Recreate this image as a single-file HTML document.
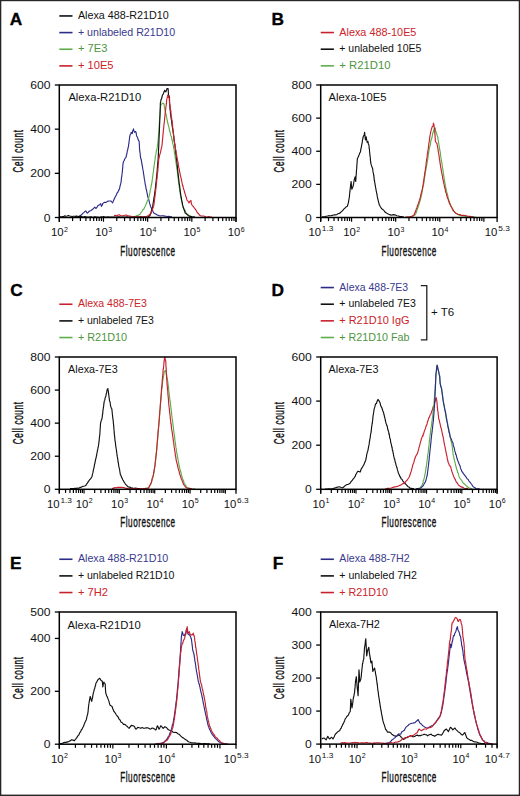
<!DOCTYPE html>
<html><head><meta charset="utf-8"><style>
html,body{margin:0;padding:0;background:#fff;}
body{width:520px;height:796px;overflow:hidden;}
svg{display:block;}
text{font-family:"Liberation Sans", sans-serif;}
.n{font-size:10.8px;fill:#111;}
.s{font-size:7px;fill:#111;}
.t{font-size:11px;fill:#111;}
.g{font-size:10.8px;}
.L{font-size:17.3px;font-weight:bold;fill:#000;stroke:#000;stroke-width:0.35px;}
.ax{font-size:14px;fill:#111;stroke:#111;stroke-width:0.4px;}
</style></head><body>
<svg width="520" height="796" viewBox="0 0 520 796">
<rect x="0" y="0" width="520" height="796" fill="#fff"/>
<path d="M75 217 L76.4 216.79 L77.8 216.75 L79.2 216.5 L80.1 215.79 L81 215.1 L81.9 214.5 L82.8 213.4 L83.7 212.65 L84.6 211.8 L85.9 210.9 L86.6 212.31 L87.3 213.2 L88.3 212.25 L89.3 211.1 L90.65 210.71 L92 209.8 L92.9 208.97 L93.8 208.11 L94.7 207.1 L96 208.5 L96.9 207.42 L97.8 205.75 L98.7 205.1 L99.7 204.66 L100.7 203.7 L101.05 205.2 L101.4 206.4 L102.07 205.45 L102.73 203.69 L103.4 203.1 L104.75 202.21 L106.1 202.4 L107.45 201.42 L108.8 201 L110.8 201 L111.7 201.75 L112.6 202.8 L113.13 201.63 L113.67 200.25 L114.2 199 L114.74 198.1 L115.28 196.62 L115.82 195.87 L116.36 194.82 L116.9 193.6 L117.44 192.3 L117.98 192.12 L118.52 190.63 L119.06 189.82 L119.6 188.3 L119.86 186.97 L120.12 185.84 L120.38 184.92 L120.64 183.94 L120.9 182.9 L121.06 181.96 L121.21 180.61 L121.37 179.11 L121.52 177.68 L121.68 176.67 L121.83 176.24 L121.99 174.14 L122.14 173.41 L122.3 172.1 L122.4 171.17 L122.5 169.16 L122.6 168.75 L122.7 168.22 L122.8 165.51 L122.9 165.2 L123 164.17 L123.1 163.1 L123.6 161.4 L124.1 160.75 L124.6 159.2 L125.4 158.02 L126.2 156.9 L126.42 154.93 L126.64 154.89 L126.86 153.59 L127.08 152.52 L127.3 150.8 L127.6 150.42 L127.9 148.69 L128.2 147.41 L128.5 146.2 L128.68 144.14 L128.85 143.84 L129.02 141.81 L129.2 140.8 L129.4 139.2 L129.6 137.38 L129.8 136.2 L130 135.4 L130.4 134.06 L130.8 134.08 L131.2 132.3 L132.3 133.5 L132.6 131.14 L132.9 130.3 L133.2 130.12 L133.5 128.8 L133.87 130.82 L134.23 131.47 L134.6 132.3 L135.4 131.5 L135.77 131.7 L136.13 132.65 L136.5 135.4 L136.9 136.65 L137.3 137.08 L137.7 137.92 L138.1 139.6 L139.2 141.5 L139.26 143.14 L139.31 144.31 L139.37 144.89 L139.43 146.03 L139.49 147.23 L139.54 148.96 L139.6 149.2 L139.73 150.69 L139.87 151.81 L140 152.99 L140.13 153.05 L140.27 155.69 L140.4 156.2 L140.68 158.01 L140.95 159.12 L141.22 159.19 L141.5 161.5 L141.7 162.36 L141.9 164.26 L142.1 164.15 L142.3 166.2 L142.57 167.48 L142.83 169.41 L143.1 170.3 L143.27 170.83 L143.45 173.31 L143.62 173.96 L143.79 174.78 L143.96 176.13 L144.14 177.4 L144.31 178.31 L144.48 179.88 L144.65 180.25 L144.83 181.49 L145 182.8 L145.23 184.37 L145.45 185.1 L145.68 185.88 L145.91 187.76 L146.14 189.1 L146.36 189.5 L146.59 190.3 L146.82 191.91 L147.05 193.05 L147.27 194.15 L147.5 195.4 L147.82 197.02 L148.14 197.31 L148.46 199.21 L148.78 199.5 L149.1 200.8 L149.42 202.38 L149.74 203.66 L150.06 204.7 L150.38 205.67 L150.7 206.7 L151.22 207.79 L151.73 208.84 L152.25 210 L152.77 210.86 L153.28 212.02 L153.8 213 L154.8 213.63 L155.8 214 L156.8 214.66 L157.8 215.11 L158.8 215.5 L160.06 216 L161.32 215.8 L162.58 215.78 L163.84 215.91 L165.1 216.1 L166.25 216.2 L167.4 216.46 L168.55 216.34 L169.7 216.57 L170.85 216.91 L172 216.7" fill="none" stroke="#2c2c88" stroke-width="1.15" stroke-linejoin="round"/>
<path d="M135 217 L136 216 L137 215.67 L138 215.37 L139 214.84 L140 214.2 L140.62 213.32 L141.25 212.22 L141.88 211.55 L142.5 210.52 L143.12 209.38 L143.75 209.23 L144.38 207.74 L145 206.7 L145.47 205.44 L145.95 204.47 L146.43 203.33 L146.9 202.28 L147.38 200.32 L147.85 199.94 L148.33 199.34 L148.8 197.9 L149.02 196.42 L149.24 195.72 L149.46 195.01 L149.69 193.9 L149.91 193.06 L150.13 190.79 L150.35 190.22 L150.57 189.14 L150.79 188.44 L151.01 187.55 L151.24 184.96 L151.46 185.4 L151.68 183.29 L151.9 182.8 L152.05 181.92 L152.19 179.84 L152.34 179.39 L152.48 178.67 L152.63 176.93 L152.78 175.92 L152.92 175.03 L153.07 173.57 L153.22 172.31 L153.36 171.89 L153.51 170.51 L153.65 168.72 L153.8 167.7 L153.97 167.87 L154.15 164.88 L154.32 164.73 L154.49 163.02 L154.66 162.08 L154.84 161.23 L155.01 159.86 L155.18 158.93 L155.35 156.7 L155.53 155.56 L155.7 155.2 L155.91 154.4 L156.12 152.45 L156.33 151.29 L156.54 149.93 L156.76 150.26 L156.97 148.87 L157.18 148.14 L157.39 145.71 L157.6 145.1 L157.71 143.96 L157.82 142.2 L157.93 142.12 L158.04 141.44 L158.15 138.92 L158.25 139.16 L158.36 137.71 L158.47 135.91 L158.58 133.74 L158.69 134.55 L158.8 132.6 L158.86 131.4 L158.93 129.96 L158.99 129.4 L159.05 128.26 L159.12 127.77 L159.18 125.12 L159.25 125.27 L159.31 124.34 L159.37 123.17 L159.44 121.04 L159.5 120 L159.59 118.41 L159.69 118.37 L159.78 116.69 L159.87 115.56 L159.96 115.25 L160.06 113.06 L160.15 110.65 L160.24 110.73 L160.34 108.66 L160.43 109.24 L160.52 107.79 L160.61 106.06 L160.71 105.32 L160.8 104.2 L161.75 104.14 L162.7 103 L164 104 L164.2 105.25 L164.4 107.26 L164.6 107.56 L164.8 109.47 L165 110 L165.25 112.11 L165.5 113.35 L165.75 113.08 L166 115.22 L166.25 114.66 L166.5 117 L166.75 117.83 L167 120 L167.29 119.95 L167.58 122.94 L167.87 122.69 L168.16 124.57 L168.45 125.61 L168.75 126.86 L169.04 127.67 L169.33 129.3 L169.62 131.36 L169.91 131.48 L170.2 132.6 L170.48 134.04 L170.76 135.45 L171.05 135.9 L171.33 136.43 L171.61 137.97 L171.89 140.02 L172.17 139.63 L172.45 141.36 L172.74 143.38 L173.02 144.4 L173.3 145.1 L173.47 146.25 L173.65 147.82 L173.82 148.63 L173.99 149.05 L174.16 150 L174.34 151.64 L174.51 153.6 L174.68 153.97 L174.85 154.95 L175.03 156.16 L175.2 157.7 L175.37 158.08 L175.55 159.93 L175.72 160.55 L175.89 162.46 L176.06 162.28 L176.24 164.73 L176.41 165.41 L176.58 165.94 L176.75 168.35 L176.93 169.03 L177.1 170.3 L177.25 170.41 L177.39 172.16 L177.54 173.82 L177.68 174.62 L177.83 176.3 L177.98 177.41 L178.12 178.5 L178.27 179.49 L178.42 181.04 L178.56 181.88 L178.71 182.93 L178.85 183.01 L179 185 L179.16 186.45 L179.33 187.7 L179.49 188.16 L179.65 189.18 L179.82 191.19 L179.98 190.89 L180.15 192.81 L180.31 194.61 L180.47 194.49 L180.64 196.15 L180.8 197 L181.04 198.77 L181.28 199.21 L181.51 200.56 L181.75 201.79 L181.99 202.34 L182.22 203.72 L182.46 204.96 L182.7 206 L183.24 207.32 L183.79 208.16 L184.33 209.21 L184.87 210.09 L185.41 211.34 L185.96 212.72 L186.5 213.6 L187.75 214.57 L189 215.5 L190 215.85 L191 216.36 L192 217" fill="none" stroke="#5fae4a" stroke-width="1.15" stroke-linejoin="round"/>
<path d="M60 216.6 L61.2 216.97 L62.4 216.64 L63.6 216.47 L64.8 215.83 L66 216.2 L67.2 215.96 L68.4 215.5 L69.7 215.94 L71 216.2 L72.14 216.51 L73.29 216.3 L74.43 216.23 L75.57 216.35 L76.71 215.93 L77.86 216.47 L79 216.3 L80.12 216.44 L81.25 216.36 L82.38 216.79 L83.5 216.95 L84.62 216.51 L85.75 216.72 L86.88 216.96 L88 217 L89.11 217.03 L90.22 216.94 L91.33 216.85 L92.44 217.2 L93.56 217.16 L94.67 216.81 L95.78 216.79 L96.89 217.2 L98 217.15 L99.11 217.2 L100.22 217.13 L101.33 216.86 L102.44 217.04 L103.56 216.66 L104.67 216.88 L105.78 216.99 L106.89 217.08 L108 216.89 L109.11 216.98 L110.22 217.07 L111.33 217.06 L112.44 217.1 L113.56 217.03 L114.67 216.95 L115.78 217.12 L116.89 217.01 L118 216.87 L119.11 216.9 L120.22 217 L121.33 216.98 L122.44 217.02 L123.56 217 L124.67 217.03 L125.78 216.98 L126.89 216.8 L128 217.07 L129.11 217.16 L130.22 217.07 L131.33 216.97 L132.44 217.07 L133.56 216.85 L134.67 216.71 L135.78 217.01 L136.89 216.86 L138 217.11 L139.11 216.83 L140.22 216.59 L141.33 216.84 L142.44 217.2 L143.56 216.94 L144.67 216.79 L145.78 216.88 L146.89 217.08 L148 217 L149 216.34 L150 215.5 L150.32 214.44 L150.65 213.63 L150.97 212.37 L151.3 211.09 L151.62 210.15 L151.95 209.34 L152.28 208.07 L152.6 206.7 L152.78 205.84 L152.96 204.05 L153.14 203.16 L153.31 202.27 L153.49 200.78 L153.67 200.07 L153.85 198.75 L154.03 197.7 L154.21 196.15 L154.39 195.97 L154.56 194.34 L154.74 192.65 L154.92 191.6 L155.1 190.4 L155.22 190.3 L155.34 188.07 L155.46 187.45 L155.57 186.39 L155.69 184.9 L155.81 183.32 L155.93 182.78 L156.05 181.75 L156.17 180.98 L156.29 179.74 L156.41 178.31 L156.53 177.57 L156.64 176.34 L156.76 175.09 L156.88 173.92 L157 172.8 L157.09 171.53 L157.18 170.79 L157.28 168.82 L157.37 167.86 L157.46 166.99 L157.55 165.13 L157.65 164.46 L157.74 162.53 L157.83 162.01 L157.92 161.47 L158.02 160.31 L158.11 158.83 L158.2 157.7 L158.25 156.44 L158.31 154.68 L158.36 155.21 L158.42 153.39 L158.47 152.55 L158.53 150.36 L158.58 149.58 L158.64 147.56 L158.69 147.81 L158.75 146.75 L158.8 145.1 L158.84 142.96 L158.89 142.87 L158.93 142.15 L158.98 139.72 L159.02 138.58 L159.06 137.9 L159.11 137.04 L159.15 135.5 L159.19 135.22 L159.24 134.24 L159.28 133.37 L159.32 132.31 L159.37 131.68 L159.41 130.39 L159.46 127.82 L159.5 127.5 L159.55 126.06 L159.59 124.59 L159.64 123.44 L159.68 122.91 L159.73 121.82 L159.77 120.98 L159.82 118.57 L159.86 117.64 L159.91 117.26 L159.95 116.01 L160 115 L160.04 113.69 L160.07 112.72 L160.11 111.16 L160.15 110.97 L160.18 109.64 L160.22 108.23 L160.25 106.74 L160.29 105.94 L160.33 103.17 L160.36 103.18 L160.4 102.7 L160.72 101.58 L161.04 99.43 L161.36 99.41 L161.68 98.24 L162 97 L162.5 94.91 L163 94.5 L163.5 93.5 L164.05 91.74 L164.6 90.4 L165.8 91.9 L166.17 91.11 L166.53 90.12 L166.9 88.6 L168.1 88.6 L168.18 89.86 L168.26 90.58 L168.34 92.34 L168.42 93.68 L168.5 95 L169.5 96.5 L169.51 98.09 L169.53 98.9 L169.54 99.32 L169.56 100.01 L169.57 101.75 L169.59 102.62 L169.6 104.2 L169.71 104.58 L169.83 106.32 L169.94 107.18 L170.06 108.67 L170.17 110.03 L170.29 110.54 L170.4 111.9 L170.54 114.52 L170.69 114.01 L170.83 116.06 L170.97 116.6 L171.11 118.38 L171.26 117.38 L171.4 120 L171.57 120.69 L171.75 122.44 L171.92 123.8 L172.09 125.99 L172.26 125.92 L172.44 127.64 L172.61 128.47 L172.78 129.72 L172.95 130.61 L173.13 131.36 L173.3 132.6 L173.45 134.05 L173.59 134.29 L173.74 136.74 L173.88 136.64 L174.03 138.51 L174.18 140.71 L174.32 140.55 L174.47 141.84 L174.62 143.63 L174.76 144.15 L174.91 144.85 L175.05 146.59 L175.2 147.6 L175.33 149 L175.45 150.16 L175.58 150.47 L175.71 152.89 L175.83 153.94 L175.96 154.17 L176.09 155.39 L176.21 156.13 L176.34 158.16 L176.47 158.18 L176.59 159.96 L176.72 160.48 L176.85 161.47 L176.97 163.26 L177.1 164 L177.22 165.74 L177.34 166.2 L177.46 166.98 L177.57 168.78 L177.69 169.48 L177.81 170.74 L177.93 172.4 L178.05 173.31 L178.17 173.67 L178.29 176.02 L178.41 176.1 L178.53 177.54 L178.64 178.02 L178.76 179.38 L178.88 179.76 L179 181.6 L179.15 183.49 L179.3 184.46 L179.45 184.56 L179.6 185.6 L179.75 186.71 L179.9 188.96 L180.05 189.47 L180.2 190.78 L180.35 191.83 L180.5 193.06 L180.65 193.86 L180.8 195.4 L181.01 196.52 L181.22 197.13 L181.43 198.71 L181.64 199.95 L181.86 201.11 L182.07 201.99 L182.28 202.9 L182.49 204.34 L182.7 205.4 L183.06 206.35 L183.41 208.01 L183.77 208.86 L184.13 209.71 L184.49 210.71 L184.84 211.75 L185.2 213 L186.15 213.57 L187.1 214.48 L188.05 215.38 L189 216.1 L190.2 216.37 L191.4 216.56 L192.6 216.99 L193.8 216.71 L195 217" fill="none" stroke="#111" stroke-width="1.15" stroke-linejoin="round"/>
<path d="M114 215.5 L115.33 215.34 L116.67 215.72 L118 215 L119.33 214.9 L120.67 215.43 L122 215.8 L123.33 215.57 L124.67 215.3 L126 215 L127.5 215.58 L129 216 L130.2 216.16 L131.4 216.46 L132.6 216.61 L133.8 216.92 L135 217 L136.11 216.71 L137.22 216.86 L138.33 217 L139.44 216.84 L140.56 216.84 L141.67 217.1 L142.78 216.9 L143.89 217.1 L145 217 L146.25 216.68 L147.5 216.1 L148.45 215.38 L149.4 214.65 L150.35 213.75 L151.3 213 L151.66 211.58 L152.01 210.82 L152.37 209.86 L152.73 208.51 L153.09 207.54 L153.44 206.7 L153.8 205.4 L153.95 203.98 L154.09 203.29 L154.24 202.53 L154.38 200.6 L154.53 199.68 L154.68 198.43 L154.82 197.85 L154.97 196.28 L155.12 195.34 L155.26 193.61 L155.41 192.7 L155.55 191.55 L155.7 190.4 L155.82 188.62 L155.94 188.76 L156.06 187.46 L156.17 185.3 L156.29 185.2 L156.41 183.75 L156.53 182.89 L156.65 181.75 L156.77 179.86 L156.89 179.31 L157.01 178.95 L157.12 176.95 L157.24 175.65 L157.36 174.39 L157.48 173.35 L157.6 172.8 L157.7 171.8 L157.8 171.28 L157.9 169.55 L158 168.32 L158.1 168.11 L158.2 165.65 L158.3 164.42 L158.4 163.86 L158.5 162.72 L158.6 160.8 L158.7 159.57 L158.8 159 L159.07 158.06 L159.34 156.95 L159.61 155.07 L159.89 154.55 L160.16 153.29 L160.43 152.73 L160.7 151.4 L160.96 150.08 L161.22 148.83 L161.48 147.43 L161.74 146.93 L162 145.1 L162.11 144.73 L162.22 142.62 L162.33 142.16 L162.44 140.13 L162.55 139.46 L162.65 138.71 L162.76 138.01 L162.87 135.79 L162.98 134.83 L163.09 133.85 L163.2 132.6 L163.32 130.58 L163.44 130.32 L163.55 128.76 L163.67 128.24 L163.79 126.2 L163.91 124.54 L164.03 124.6 L164.15 123.59 L164.26 121.96 L164.38 121.69 L164.5 120 L164.63 118.63 L164.76 117.22 L164.89 116.7 L165.02 114.22 L165.15 113.57 L165.28 112.79 L165.41 112.14 L165.54 110.3 L165.67 109.4 L165.8 108 L165.93 106.43 L166.06 105.91 L166.19 105.65 L166.31 102.98 L166.44 103.84 L166.57 100.72 L166.7 100 L166.95 98.76 L167.2 97.62 L167.45 96.94 L167.7 95 L168 95.42 L168.3 97.5 L169 96.5 L169.12 96.29 L169.25 99.28 L169.38 100.59 L169.5 101.66 L169.62 104.16 L169.75 103.76 L169.88 104.98 L170 106 L170.14 107.74 L170.29 108.52 L170.43 110.49 L170.57 109.78 L170.71 111.48 L170.86 110.68 L171 114 L171.2 115.71 L171.4 116.17 L171.6 118.17 L171.8 120.13 L172 120 L172.11 121.1 L172.22 122.06 L172.34 123.02 L172.45 123.92 L172.56 125.15 L172.67 127.02 L172.78 127.76 L172.89 128.89 L173.01 129.85 L173.12 131.59 L173.23 132.45 L173.34 133.19 L173.45 134.76 L173.56 135.4 L173.68 135.93 L173.79 138.52 L173.9 138.8 L174.09 140.22 L174.28 140.59 L174.48 142.88 L174.67 143.64 L174.86 143.75 L175.05 146.64 L175.25 147.11 L175.44 148.57 L175.63 149.36 L175.82 150.34 L176.02 150.76 L176.21 153.25 L176.4 153.9 L176.61 155.07 L176.82 156.05 L177.03 157.53 L177.23 158.54 L177.44 159.99 L177.65 160.62 L177.86 161.93 L178.07 162.05 L178.28 164.04 L178.48 165.72 L178.69 167.19 L178.9 167.7 L179.14 168.67 L179.37 169.93 L179.61 171.87 L179.85 172.13 L180.08 173.76 L180.32 175.32 L180.55 175.74 L180.79 177.4 L181.03 177.7 L181.26 179.24 L181.5 180.3 L181.76 181.34 L182.01 182.49 L182.27 183.98 L182.53 185.56 L182.79 185.39 L183.04 186.5 L183.3 187.8 L183.68 189.25 L184.06 189.92 L184.44 191.77 L184.82 193.05 L185.2 194.1 L185.58 195.26 L185.96 196.81 L186.34 197.35 L186.72 199.39 L187.1 200.4 L188.05 201.16 L189 202.9 L189.95 201.43 L190.9 200.4 L191.1 201.49 L191.3 202.81 L191.5 204.2 L192.45 205.7 L193.4 206.7 L194.35 207.97 L195.3 209.2 L195.93 210.05 L196.55 211.23 L197.18 212.42 L197.8 213 L198.53 213.83 L199.27 214.74 L200 215.5 L201.25 215.98 L202.5 216.05 L203.75 216.02 L205 216.5 L206.17 217 L207.33 217.03 L208.5 216.43 L209.67 216.83 L210.83 216.98 L212 217" fill="none" stroke="#c8202e" stroke-width="1.15" stroke-linejoin="round"/>
<rect x="59.3" y="85" width="176.7" height="132.5" fill="none" stroke="#000" stroke-width="1.5"/>
<line x1="54.8" y1="217.5" x2="59.3" y2="217.5" stroke="#000" stroke-width="1.3"/>
<text x="50.4" y="221.5" text-anchor="end" class="n" textLength="6.75" lengthAdjust="spacingAndGlyphs">0</text>
<line x1="54.8" y1="173.33" x2="59.3" y2="173.33" stroke="#000" stroke-width="1.3"/>
<text x="50.4" y="177.33" text-anchor="end" class="n" textLength="20.25" lengthAdjust="spacingAndGlyphs">200</text>
<line x1="54.8" y1="129.17" x2="59.3" y2="129.17" stroke="#000" stroke-width="1.3"/>
<text x="50.4" y="133.17" text-anchor="end" class="n" textLength="20.25" lengthAdjust="spacingAndGlyphs">400</text>
<line x1="54.8" y1="85" x2="59.3" y2="85" stroke="#000" stroke-width="1.3"/>
<text x="50.4" y="89" text-anchor="end" class="n" textLength="20.25" lengthAdjust="spacingAndGlyphs">600</text>
<line x1="59.3" y1="217.5" x2="59.3" y2="221.7" stroke="#000" stroke-width="1.2"/>
<line x1="72.6" y1="217.5" x2="72.6" y2="221.1" stroke="#000" stroke-width="1.2"/>
<line x1="80.38" y1="217.5" x2="80.38" y2="221.1" stroke="#000" stroke-width="1.2"/>
<line x1="85.9" y1="217.5" x2="85.9" y2="221.1" stroke="#000" stroke-width="1.2"/>
<line x1="90.18" y1="217.5" x2="90.18" y2="221.1" stroke="#000" stroke-width="1.2"/>
<line x1="93.67" y1="217.5" x2="93.67" y2="221.1" stroke="#000" stroke-width="1.2"/>
<line x1="96.63" y1="217.5" x2="96.63" y2="221.1" stroke="#000" stroke-width="1.2"/>
<line x1="99.19" y1="217.5" x2="99.19" y2="221.1" stroke="#000" stroke-width="1.2"/>
<line x1="101.45" y1="217.5" x2="101.45" y2="221.1" stroke="#000" stroke-width="1.2"/>
<line x1="103.47" y1="217.5" x2="103.47" y2="221.7" stroke="#000" stroke-width="1.2"/>
<line x1="116.77" y1="217.5" x2="116.77" y2="221.1" stroke="#000" stroke-width="1.2"/>
<line x1="124.55" y1="217.5" x2="124.55" y2="221.1" stroke="#000" stroke-width="1.2"/>
<line x1="130.07" y1="217.5" x2="130.07" y2="221.1" stroke="#000" stroke-width="1.2"/>
<line x1="134.35" y1="217.5" x2="134.35" y2="221.1" stroke="#000" stroke-width="1.2"/>
<line x1="137.85" y1="217.5" x2="137.85" y2="221.1" stroke="#000" stroke-width="1.2"/>
<line x1="140.81" y1="217.5" x2="140.81" y2="221.1" stroke="#000" stroke-width="1.2"/>
<line x1="143.37" y1="217.5" x2="143.37" y2="221.1" stroke="#000" stroke-width="1.2"/>
<line x1="145.63" y1="217.5" x2="145.63" y2="221.1" stroke="#000" stroke-width="1.2"/>
<line x1="147.65" y1="217.5" x2="147.65" y2="221.7" stroke="#000" stroke-width="1.2"/>
<line x1="160.95" y1="217.5" x2="160.95" y2="221.1" stroke="#000" stroke-width="1.2"/>
<line x1="168.73" y1="217.5" x2="168.73" y2="221.1" stroke="#000" stroke-width="1.2"/>
<line x1="174.25" y1="217.5" x2="174.25" y2="221.1" stroke="#000" stroke-width="1.2"/>
<line x1="178.53" y1="217.5" x2="178.53" y2="221.1" stroke="#000" stroke-width="1.2"/>
<line x1="182.02" y1="217.5" x2="182.02" y2="221.1" stroke="#000" stroke-width="1.2"/>
<line x1="184.98" y1="217.5" x2="184.98" y2="221.1" stroke="#000" stroke-width="1.2"/>
<line x1="187.54" y1="217.5" x2="187.54" y2="221.1" stroke="#000" stroke-width="1.2"/>
<line x1="189.8" y1="217.5" x2="189.8" y2="221.1" stroke="#000" stroke-width="1.2"/>
<line x1="191.82" y1="217.5" x2="191.82" y2="221.7" stroke="#000" stroke-width="1.2"/>
<line x1="205.12" y1="217.5" x2="205.12" y2="221.1" stroke="#000" stroke-width="1.2"/>
<line x1="212.9" y1="217.5" x2="212.9" y2="221.1" stroke="#000" stroke-width="1.2"/>
<line x1="218.42" y1="217.5" x2="218.42" y2="221.1" stroke="#000" stroke-width="1.2"/>
<line x1="222.7" y1="217.5" x2="222.7" y2="221.1" stroke="#000" stroke-width="1.2"/>
<line x1="226.2" y1="217.5" x2="226.2" y2="221.1" stroke="#000" stroke-width="1.2"/>
<line x1="229.16" y1="217.5" x2="229.16" y2="221.1" stroke="#000" stroke-width="1.2"/>
<line x1="231.72" y1="217.5" x2="231.72" y2="221.1" stroke="#000" stroke-width="1.2"/>
<line x1="233.98" y1="217.5" x2="233.98" y2="221.1" stroke="#000" stroke-width="1.2"/>
<line x1="236" y1="217.5" x2="236" y2="221.7" stroke="#000" stroke-width="1.2"/>
<line x1="59.3" y1="217.5" x2="59.3" y2="222" stroke="#000" stroke-width="1.3"/>
<line x1="236" y1="217.5" x2="236" y2="222" stroke="#000" stroke-width="1.3"/>
<text x="51.05" y="236.4" class="n" textLength="12.6" lengthAdjust="spacingAndGlyphs">10</text><text x="64.05" y="231.5" class="s">2</text>
<text x="95.22" y="236.4" class="n" textLength="12.6" lengthAdjust="spacingAndGlyphs">10</text><text x="108.22" y="231.5" class="s">3</text>
<text x="139.4" y="236.4" class="n" textLength="12.6" lengthAdjust="spacingAndGlyphs">10</text><text x="152.4" y="231.5" class="s">4</text>
<text x="183.57" y="236.4" class="n" textLength="12.6" lengthAdjust="spacingAndGlyphs">10</text><text x="196.57" y="231.5" class="s">5</text>
<text x="227.75" y="236.4" class="n" textLength="12.6" lengthAdjust="spacingAndGlyphs">10</text><text x="240.75" y="231.5" class="s">6</text>
<text transform="translate(147.65 255.6) scale(0.58 1)" x="0" y="0" text-anchor="middle" class="ax" textLength="94.83" lengthAdjust="spacing">Fluorescence</text>
<text transform="translate(22.9 151.25) rotate(-90) scale(0.58 1)" x="0" y="0" text-anchor="middle" class="ax" textLength="73.1" lengthAdjust="spacing">Cell count</text>
<text x="68.4" y="101.4" class="t" textLength="72.8" lengthAdjust="spacingAndGlyphs">Alexa-R21D10</text>
<path d="M322 216.8 L323.4 216.76 L324.8 216.52 L326.2 216.2 L327.42 215.99 L328.64 215.69 L329.86 215.74 L331.08 215.76 L332.3 215.4 L333.45 214.99 L334.6 214.8 L335.75 214.8 L336.9 214.6 L337.93 213.69 L338.97 213.54 L340 213.1 L341.03 211.96 L342.07 211.14 L343.1 210 L344.25 208.66 L345.4 207.7 L346.4 206.7 L347.4 206.2 L347.77 204.78 L348.13 203.58 L348.5 202.3 L348.67 200.94 L348.83 200 L349 199.1 L349.17 198.11 L349.33 197.14 L349.5 195.4 L349.62 193.97 L349.75 192.95 L349.88 191.02 L350 191.52 L350.12 189.37 L350.25 188.49 L350.38 187.56 L350.5 186.2 L350.65 184.47 L350.8 184.04 L350.95 182.66 L351.1 181.5 L351.2 181.84 L351.3 183.82 L351.4 185.28 L351.5 185.15 L351.6 187.32 L351.7 188.18 L351.8 189.2 L352.45 187.89 L353.1 186.2 L353.32 185.14 L353.54 184.26 L353.76 182.39 L353.98 181.61 L354.2 180 L354.65 178.27 L355.1 176.9 L355.25 178.37 L355.4 178.85 L355.55 180.3 L355.7 181.5 L355.78 181.12 L355.86 179.45 L355.95 178.08 L356.03 176.53 L356.11 175.56 L356.19 174.88 L356.27 174.1 L356.35 172.75 L356.44 171.68 L356.52 170.3 L356.6 169.2 L356.69 168.65 L356.78 166.64 L356.87 165.37 L356.96 164.87 L357.04 163.29 L357.13 161.93 L357.22 160.59 L357.31 159.56 L357.4 158.5 L358 157.52 L358.6 156.08 L359.2 154.6 L359.75 152.82 L360.3 152.3 L360.54 151.3 L360.78 149.96 L361.02 148.1 L361.26 147.84 L361.5 146.2 L361.69 144.95 L361.87 143.82 L362.06 143.34 L362.24 142.53 L362.43 140.32 L362.61 139.85 L362.8 138.5 L363.3 136.45 L363.8 135.4 L364.2 135.19 L364.6 132.3 L364.73 133.11 L364.86 135.19 L364.99 135.23 L365.11 137.16 L365.24 139.06 L365.37 137.47 L365.5 140 L365.85 138.2 L366.2 136.9 L366.43 138.53 L366.65 139.55 L366.88 140.58 L367.1 142.3 L368 141.5 L368.3 143.99 L368.6 144.14 L368.9 145.4 L369.05 145.86 L369.2 148.56 L369.35 148.53 L369.5 150.8 L369.62 152.52 L369.74 152.74 L369.85 154.23 L369.97 155.92 L370.09 156.45 L370.21 156.8 L370.33 157.77 L370.45 160.34 L370.56 161.23 L370.68 161.58 L370.8 163.1 L371.18 164.67 L371.55 165.64 L371.93 166.86 L372.3 167.7 L372.54 167.86 L372.78 170 L373.02 171.77 L373.26 172.91 L373.5 173.8 L373.66 175.29 L373.81 174.91 L373.97 177.17 L374.13 178.41 L374.29 180.39 L374.44 180 L374.6 181.5 L374.8 182.53 L375 183.84 L375.2 185.35 L375.4 185.97 L375.6 187.77 L375.8 188.17 L376 189.74 L376.2 190.8 L376.41 191.7 L376.63 193.06 L376.84 193.85 L377.06 194.63 L377.27 196.68 L377.49 197.5 L377.7 198.5 L378 199.54 L378.3 201 L378.6 202.47 L378.9 203.08 L379.2 204.6 L379.77 205.54 L380.35 206.7 L380.93 207.67 L381.5 208.5 L382.53 209.41 L383.57 209.97 L384.6 211.5 L385.63 212.56 L386.67 213.11 L387.7 213.8 L388.73 214.24 L389.77 214.61 L390.8 215.1 L392.3 214.9 L393.8 214.6 L395.35 215.07 L396.9 215.7 L398.45 215.97 L400 216.6 L401.33 216.61 L402.67 216.77 L404 217" fill="none" stroke="#111" stroke-width="1.15" stroke-linejoin="round"/>
<path d="M406 217.3 L407.2 217.19 L408.4 217.08 L409.6 217.2 L410.8 217.2 L411.95 216.33 L413.1 216.02 L414.25 215.05 L415.4 214.6 L415.79 213.63 L416.17 212.82 L416.56 211.5 L416.95 210.21 L417.34 209.36 L417.73 208.34 L418.11 206.76 L418.5 206.2 L418.8 204.94 L419.1 204.09 L419.4 202.81 L419.7 201.91 L420 201.04 L420.3 199.97 L420.6 198.95 L420.9 197.76 L421.2 196.38 L421.5 195.4 L421.71 194.28 L421.92 193.06 L422.13 191.93 L422.34 190.86 L422.55 189.15 L422.75 188.56 L422.96 187.56 L423.17 186.07 L423.38 185.33 L423.59 184.43 L423.8 183.1 L423.98 181.83 L424.16 181.58 L424.33 178.38 L424.51 178.21 L424.69 176.3 L424.87 176.33 L425.04 175.89 L425.22 172.37 L425.4 172.3 L425.62 171.16 L425.84 170.14 L426.07 168.56 L426.29 167.76 L426.51 165.23 L426.73 165.51 L426.96 164.08 L427.18 162.71 L427.4 161.5 L427.56 160.09 L427.73 159.58 L427.89 157.9 L428.05 157.14 L428.22 155.65 L428.38 153.63 L428.55 153.66 L428.71 152.66 L428.87 151.83 L429.04 149.85 L429.2 149.2 L429.46 147.99 L429.71 147.16 L429.97 145.71 L430.22 145.12 L430.48 144.35 L430.73 141.56 L430.99 139.81 L431.24 140.17 L431.5 138.5 L431.79 138.27 L432.07 136.83 L432.36 135.67 L432.64 133.74 L432.93 132.59 L433.21 132.42 L433.5 130.8 L434.03 129.23 L434.57 127.66 L435.1 127.7 L435.32 128.19 L435.54 131.33 L435.76 132.07 L435.98 131.62 L436.2 133.1 L436.7 133.95 L437.2 135.77 L437.7 136.9 L437.89 137.64 L438.07 139.96 L438.26 140.34 L438.45 140.95 L438.64 143.44 L438.82 143.55 L439.01 145.16 L439.2 146.2 L439.38 147.38 L439.56 148.41 L439.73 149.94 L439.91 150.59 L440.09 151.18 L440.27 152.18 L440.44 153.87 L440.62 155.32 L440.8 156.9 L440.98 158.01 L441.16 159.16 L441.35 160.53 L441.53 161.43 L441.71 162.1 L441.89 163.26 L442.07 163.7 L442.25 165.76 L442.44 167.19 L442.62 168.33 L442.8 169.2 L442.98 170.3 L443.15 171.44 L443.32 173.1 L443.5 173.84 L443.68 175.32 L443.85 176.41 L444.02 177.4 L444.2 179.03 L444.38 179.38 L444.55 180.63 L444.72 181.6 L444.9 183.1 L445.15 183.92 L445.4 186.03 L445.65 187.25 L445.9 187.71 L446.15 189.07 L446.4 190.45 L446.65 191.45 L446.9 192.3 L447.19 193.89 L447.47 194.15 L447.76 195.52 L448.05 197.06 L448.34 198.54 L448.62 199.23 L448.91 200.07 L449.2 201.5 L449.64 202.49 L450.09 203.5 L450.53 204.54 L450.97 206.34 L451.41 206.82 L451.86 208.11 L452.3 209.2 L453.07 210.73 L453.85 211.44 L454.62 212.2 L455.4 213.1 L456.55 213.54 L457.7 214.34 L458.85 215.15 L460 215.4 L461.15 215.72 L462.3 216.03 L463.45 216.02 L464.6 216.2 L465.84 216.43 L467.08 216.45 L468.32 216.69 L469.56 216.97 L470.8 216.9 L472.1 216.75 L473.4 217.04 L474.7 217.16 L476 217.2" fill="none" stroke="#5fae4a" stroke-width="1.15" stroke-linejoin="round"/>
<path d="M405 217.2 L406.4 217.01 L407.8 216.95 L409.2 216.9 L410.35 216.66 L411.5 216.51 L412.65 215.89 L413.8 215.4 L414.24 214.37 L414.69 212.85 L415.13 212.56 L415.57 211.02 L416.01 209.89 L416.46 208.5 L416.9 207.7 L417.29 206.53 L417.67 205.08 L418.06 204.27 L418.45 203.24 L418.84 201.96 L419.23 200.89 L419.61 199.37 L420 198.5 L420.29 197.83 L420.57 195.95 L420.86 194.36 L421.15 193.78 L421.44 192.41 L421.73 191.15 L422.01 190.23 L422.3 189.2 L422.49 188.16 L422.68 186.43 L422.86 185.69 L423.05 185.18 L423.24 183.73 L423.43 182.24 L423.61 181.2 L423.8 180 L423.98 178.75 L424.16 177.58 L424.33 176.72 L424.51 175.16 L424.69 172.92 L424.87 172.79 L425.04 171.19 L425.22 170.7 L425.4 169.2 L425.57 167.72 L425.73 166.89 L425.9 166.68 L426.07 163.94 L426.23 162.71 L426.4 161.37 L426.57 159.69 L426.73 158.75 L426.9 158.5 L427.05 157.57 L427.19 155.94 L427.34 154.18 L427.48 153.26 L427.63 153.23 L427.77 151.38 L427.92 150.48 L428.06 149.73 L428.21 149.16 L428.35 148.36 L428.5 146.2 L428.67 145.56 L428.83 143.88 L429 142.7 L429.17 142.4 L429.33 141 L429.5 138.83 L429.67 138.06 L429.83 136.76 L430 135.4 L430.3 134.19 L430.6 132.63 L430.9 130.91 L431.2 130.13 L431.5 129.2 L432.15 126.78 L432.8 126.2 L433.15 125.39 L433.5 123.1 L433.72 124.5 L433.94 124.54 L434.16 127.17 L434.38 127.95 L434.6 128.5 L434.67 128.56 L434.75 131.94 L434.82 132.52 L434.89 134.42 L434.96 133.7 L435.04 135.89 L435.11 137.01 L435.18 138.07 L435.25 139.23 L435.33 140.91 L435.4 141.5 L436.6 143.1 L436.88 143.43 L437.15 144.72 L437.43 145.8 L437.7 147.7 L437.89 148.55 L438.07 149.68 L438.26 151.34 L438.45 152.44 L438.64 153.47 L438.82 154.25 L439.01 155.52 L439.2 156.9 L439.38 158.58 L439.56 159.68 L439.73 160.55 L439.91 161.54 L440.09 163.66 L440.27 163.81 L440.44 165.61 L440.62 167.05 L440.8 167.7 L441.01 168.69 L441.22 170.32 L441.43 170.54 L441.64 172.64 L441.85 173.38 L442.05 173.7 L442.26 175.82 L442.47 176.25 L442.68 178.32 L442.89 178.59 L443.1 180 L443.33 181.01 L443.56 182.28 L443.79 183.1 L444.02 184.43 L444.25 185.18 L444.48 186.75 L444.71 187.56 L444.94 188.72 L445.17 188.66 L445.4 190.8 L445.73 192.33 L446.06 193.01 L446.39 193.45 L446.71 195.23 L447.04 196.46 L447.37 197.77 L447.7 198.5 L448.14 199.24 L448.59 201.2 L449.03 201.75 L449.47 203.64 L449.91 203.96 L450.36 205.3 L450.8 206.2 L451.55 207.25 L452.3 208.2 L453.05 209.94 L453.8 210.8 L454.83 212.02 L455.87 213.15 L456.9 213.8 L458.05 214.38 L459.2 214.48 L460.35 214.67 L461.5 215.4 L462.68 215.35 L463.85 215.42 L465.02 215.47 L466.2 215.7 L467.35 216.03 L468.5 216.21 L469.65 216.33 L470.8 216.6 L472.3 216.83 L473.8 217" fill="none" stroke="#c8202e" stroke-width="1.15" stroke-linejoin="round"/>
<rect x="320.7" y="85" width="176.4" height="132.5" fill="none" stroke="#000" stroke-width="1.5"/>
<line x1="316.2" y1="217.5" x2="320.7" y2="217.5" stroke="#000" stroke-width="1.3"/>
<text x="311.8" y="221.5" text-anchor="end" class="n" textLength="6.75" lengthAdjust="spacingAndGlyphs">0</text>
<line x1="316.2" y1="184.38" x2="320.7" y2="184.38" stroke="#000" stroke-width="1.3"/>
<text x="311.8" y="188.38" text-anchor="end" class="n" textLength="20.25" lengthAdjust="spacingAndGlyphs">200</text>
<line x1="316.2" y1="151.25" x2="320.7" y2="151.25" stroke="#000" stroke-width="1.3"/>
<text x="311.8" y="155.25" text-anchor="end" class="n" textLength="20.25" lengthAdjust="spacingAndGlyphs">400</text>
<line x1="316.2" y1="118.12" x2="320.7" y2="118.12" stroke="#000" stroke-width="1.3"/>
<text x="311.8" y="122.12" text-anchor="end" class="n" textLength="20.25" lengthAdjust="spacingAndGlyphs">600</text>
<line x1="316.2" y1="85" x2="320.7" y2="85" stroke="#000" stroke-width="1.3"/>
<text x="311.8" y="89" text-anchor="end" class="n" textLength="20.25" lengthAdjust="spacingAndGlyphs">800</text>
<line x1="320.75" y1="217.5" x2="320.75" y2="221.1" stroke="#000" stroke-width="1.2"/>
<line x1="328.51" y1="217.5" x2="328.51" y2="221.1" stroke="#000" stroke-width="1.2"/>
<line x1="334.02" y1="217.5" x2="334.02" y2="221.1" stroke="#000" stroke-width="1.2"/>
<line x1="338.29" y1="217.5" x2="338.29" y2="221.1" stroke="#000" stroke-width="1.2"/>
<line x1="341.79" y1="217.5" x2="341.79" y2="221.1" stroke="#000" stroke-width="1.2"/>
<line x1="344.74" y1="217.5" x2="344.74" y2="221.1" stroke="#000" stroke-width="1.2"/>
<line x1="347.3" y1="217.5" x2="347.3" y2="221.1" stroke="#000" stroke-width="1.2"/>
<line x1="349.55" y1="217.5" x2="349.55" y2="221.1" stroke="#000" stroke-width="1.2"/>
<line x1="351.57" y1="217.5" x2="351.57" y2="221.7" stroke="#000" stroke-width="1.2"/>
<line x1="364.85" y1="217.5" x2="364.85" y2="221.1" stroke="#000" stroke-width="1.2"/>
<line x1="372.61" y1="217.5" x2="372.61" y2="221.1" stroke="#000" stroke-width="1.2"/>
<line x1="378.12" y1="217.5" x2="378.12" y2="221.1" stroke="#000" stroke-width="1.2"/>
<line x1="382.39" y1="217.5" x2="382.39" y2="221.1" stroke="#000" stroke-width="1.2"/>
<line x1="385.89" y1="217.5" x2="385.89" y2="221.1" stroke="#000" stroke-width="1.2"/>
<line x1="388.84" y1="217.5" x2="388.84" y2="221.1" stroke="#000" stroke-width="1.2"/>
<line x1="391.4" y1="217.5" x2="391.4" y2="221.1" stroke="#000" stroke-width="1.2"/>
<line x1="393.65" y1="217.5" x2="393.65" y2="221.1" stroke="#000" stroke-width="1.2"/>
<line x1="395.67" y1="217.5" x2="395.67" y2="221.7" stroke="#000" stroke-width="1.2"/>
<line x1="408.95" y1="217.5" x2="408.95" y2="221.1" stroke="#000" stroke-width="1.2"/>
<line x1="416.71" y1="217.5" x2="416.71" y2="221.1" stroke="#000" stroke-width="1.2"/>
<line x1="422.22" y1="217.5" x2="422.22" y2="221.1" stroke="#000" stroke-width="1.2"/>
<line x1="426.49" y1="217.5" x2="426.49" y2="221.1" stroke="#000" stroke-width="1.2"/>
<line x1="429.99" y1="217.5" x2="429.99" y2="221.1" stroke="#000" stroke-width="1.2"/>
<line x1="432.94" y1="217.5" x2="432.94" y2="221.1" stroke="#000" stroke-width="1.2"/>
<line x1="435.5" y1="217.5" x2="435.5" y2="221.1" stroke="#000" stroke-width="1.2"/>
<line x1="437.75" y1="217.5" x2="437.75" y2="221.1" stroke="#000" stroke-width="1.2"/>
<line x1="439.77" y1="217.5" x2="439.77" y2="221.7" stroke="#000" stroke-width="1.2"/>
<line x1="453.05" y1="217.5" x2="453.05" y2="221.1" stroke="#000" stroke-width="1.2"/>
<line x1="460.81" y1="217.5" x2="460.81" y2="221.1" stroke="#000" stroke-width="1.2"/>
<line x1="466.32" y1="217.5" x2="466.32" y2="221.1" stroke="#000" stroke-width="1.2"/>
<line x1="470.59" y1="217.5" x2="470.59" y2="221.1" stroke="#000" stroke-width="1.2"/>
<line x1="474.09" y1="217.5" x2="474.09" y2="221.1" stroke="#000" stroke-width="1.2"/>
<line x1="477.04" y1="217.5" x2="477.04" y2="221.1" stroke="#000" stroke-width="1.2"/>
<line x1="479.6" y1="217.5" x2="479.6" y2="221.1" stroke="#000" stroke-width="1.2"/>
<line x1="481.85" y1="217.5" x2="481.85" y2="221.1" stroke="#000" stroke-width="1.2"/>
<line x1="483.87" y1="217.5" x2="483.87" y2="221.7" stroke="#000" stroke-width="1.2"/>
<line x1="320.7" y1="217.5" x2="320.7" y2="222" stroke="#000" stroke-width="1.3"/>
<line x1="497.1" y1="217.5" x2="497.1" y2="222" stroke="#000" stroke-width="1.3"/>
<text x="308.4" y="236.4" class="n" textLength="12.6" lengthAdjust="spacingAndGlyphs">10</text><text x="321.8" y="231.2" class="s" textLength="11.6" lengthAdjust="spacingAndGlyphs">1.3</text>
<text x="343.32" y="236.4" class="n" textLength="12.6" lengthAdjust="spacingAndGlyphs">10</text><text x="356.32" y="231.5" class="s">2</text>
<text x="387.42" y="236.4" class="n" textLength="12.6" lengthAdjust="spacingAndGlyphs">10</text><text x="400.42" y="231.5" class="s">3</text>
<text x="431.52" y="236.4" class="n" textLength="12.6" lengthAdjust="spacingAndGlyphs">10</text><text x="444.52" y="231.5" class="s">4</text>
<text x="484.8" y="236.4" class="n" textLength="12.6" lengthAdjust="spacingAndGlyphs">10</text><text x="498.2" y="231.2" class="s" textLength="11.6" lengthAdjust="spacingAndGlyphs">5.3</text>
<text transform="translate(408.9 255.6) scale(0.58 1)" x="0" y="0" text-anchor="middle" class="ax" textLength="94.83" lengthAdjust="spacing">Fluorescence</text>
<text transform="translate(284.3 151.25) rotate(-90) scale(0.58 1)" x="0" y="0" text-anchor="middle" class="ax" textLength="73.1" lengthAdjust="spacing">Cell count</text>
<text x="328.6" y="100.7" class="t" textLength="57.9" lengthAdjust="spacingAndGlyphs">Alexa-10E5</text>
<path d="M70 488.6 L71.25 488.5 L72.5 488.49 L73.75 488.5 L75 488.3 L76.33 488.43 L77.67 488.12 L79 488.2 L80.03 487.39 L81.07 487.41 L82.1 486.6 L83.37 486.22 L84.63 486.04 L85.9 485.4 L86.52 484.1 L87.14 483.48 L87.76 482.65 L88.38 481.35 L89 480.8 L89.62 479.74 L90.24 479.16 L90.86 478.35 L91.48 477.59 L92.1 476.2 L92.33 474.85 L92.56 473.6 L92.79 473.13 L93.02 472.19 L93.25 470.86 L93.48 469.28 L93.71 468.91 L93.94 467.84 L94.17 466.68 L94.4 465.4 L94.63 464.14 L94.86 463.35 L95.09 462.46 L95.32 460.86 L95.55 459.28 L95.78 459.05 L96.01 458.03 L96.24 456.77 L96.47 456.04 L96.7 454.6 L96.92 453.15 L97.14 452.17 L97.37 450.87 L97.59 450.05 L97.81 449.3 L98.03 447.29 L98.26 447.12 L98.48 445.69 L98.7 443.8 L98.84 443.01 L98.97 441.77 L99.11 441.18 L99.25 439.11 L99.39 438 L99.53 436.39 L99.66 435.98 L99.8 434.6 L99.88 434.06 L99.96 432.47 L100.03 431.21 L100.11 429.7 L100.19 428.69 L100.27 426.67 L100.34 426.74 L100.42 424.79 L100.5 423.8 L100.82 422 L101.14 420.96 L101.46 419.7 L101.78 419.38 L102.1 417.7 L102.25 417.13 L102.4 414.65 L102.55 414.76 L102.7 413.59 L102.85 411.63 L103 409.96 L103.15 409.23 L103.3 408.5 L103.46 407.04 L103.61 406.5 L103.77 404.99 L103.93 402.92 L104.09 403.14 L104.24 401 L104.4 400.8 L104.78 400.19 L105.15 397.78 L105.53 396.93 L105.9 396.2 L106.12 394.44 L106.34 393.39 L106.56 393.27 L106.78 391.76 L107 390 L107.9 388.5 L108.05 390.02 L108.2 391 L108.35 391 L108.5 393.1 L108.64 393.88 L108.79 394.97 L108.93 395.81 L109.07 397.8 L109.21 398.16 L109.36 399.28 L109.5 400.8 L109.8 401.41 L110.1 402.04 L110.4 404.81 L110.7 406.45 L111 406.9 L111.28 408.15 L111.55 408.65 L111.82 408.82 L112.1 411.5 L112.24 412.76 L112.38 414.5 L112.51 415.15 L112.65 416.66 L112.79 418.12 L112.92 419.08 L113.06 419.4 L113.2 420.8 L113.3 422.51 L113.4 423.51 L113.5 423.45 L113.6 425.19 L113.7 425.82 L113.8 427.64 L113.9 429.14 L114 429.46 L114.1 430.12 L114.2 432.95 L114.3 433.64 L114.4 434.6 L114.54 436.43 L114.67 436.2 L114.81 438.46 L114.95 440.06 L115.08 441.14 L115.22 441.21 L115.35 442.55 L115.49 443.47 L115.63 445.12 L115.76 446.25 L115.9 446.9 L116.08 448.14 L116.26 448.71 L116.43 450.82 L116.61 451.5 L116.79 453.17 L116.97 454.21 L117.14 455.97 L117.32 456.96 L117.5 457.7 L117.69 458.67 L117.88 460.14 L118.06 461.83 L118.25 462.1 L118.44 463.61 L118.62 465.04 L118.81 466.21 L119 466.9 L119.21 468.18 L119.43 468.64 L119.64 469.77 L119.86 471.38 L120.07 472.53 L120.29 474.31 L120.5 474.6 L120.96 475.42 L121.42 477.1 L121.88 478.06 L122.34 478.45 L122.8 480 L123.4 480.73 L124 481.94 L124.6 482.73 L125.2 483.8 L126.2 484.8 L127.2 485.97 L128.2 486.9 L129.75 487.15 L131.3 487.7 L132.85 488.03 L134.4 488.2 L135.52 488.19 L136.64 488.31 L137.76 488.59 L138.88 488.51 L140 488.7" fill="none" stroke="#111" stroke-width="1.15" stroke-linejoin="round"/>
<path d="M144 488.8 L145.22 488.52 L146.45 488.43 L147.68 487.83 L148.9 487.5 L149.42 486.45 L149.94 485.62 L150.46 484.36 L150.98 483.68 L151.5 482.4 L151.79 480.91 L152.08 480.26 L152.37 478.79 L152.66 477.55 L152.94 477.15 L153.23 475.21 L153.52 474.86 L153.81 473.37 L154.1 472 L154.24 471.34 L154.38 469.38 L154.53 468.99 L154.67 467.95 L154.81 466.25 L154.95 465.1 L155.09 464.92 L155.23 462.93 L155.38 461.56 L155.52 460.34 L155.66 459.62 L155.8 458.3 L155.91 457.29 L156.03 456.08 L156.14 455.57 L156.25 453.58 L156.37 452.77 L156.48 452.04 L156.59 449.84 L156.71 449.58 L156.82 448.79 L156.93 446.23 L157.05 445.19 L157.16 444.07 L157.27 442.55 L157.39 442.46 L157.5 441.1 L157.59 439.08 L157.69 439.04 L157.78 438.36 L157.87 435.73 L157.97 435.21 L158.06 433.28 L158.15 433.46 L158.25 431.56 L158.34 430.65 L158.43 429.66 L158.53 428.76 L158.62 427.16 L158.71 426.2 L158.81 424.76 L158.9 423.9 L158.99 422.81 L159.09 420.97 L159.18 420.47 L159.27 418.25 L159.37 417.87 L159.46 418.02 L159.55 415.87 L159.65 413.98 L159.74 413.66 L159.83 411.82 L159.93 410.29 L160.02 409.64 L160.11 409.33 L160.21 407.97 L160.3 406.6 L160.39 405.44 L160.49 403.85 L160.58 402.65 L160.67 402.96 L160.76 401.21 L160.86 399.39 L160.95 397.59 L161.04 396.92 L161.14 398.12 L161.23 394.83 L161.32 394.37 L161.41 393.44 L161.51 392.11 L161.6 391.1 L161.74 389.73 L161.88 387.85 L162.02 386.84 L162.16 387.36 L162.3 384.62 L162.44 384.44 L162.58 381.62 L162.72 381.32 L162.86 380.47 L163 379.1 L163.2 378.66 L163.4 376.14 L163.6 376.15 L163.8 374.9 L164 373.04 L164.2 372.73 L164.4 371.3 L165.6 370.5 L165.82 371.03 L166.05 372.22 L166.28 373.86 L166.5 375 L166.73 374.48 L166.97 377.43 L167.2 378.1 L167.43 379.06 L167.67 380.98 L167.9 382.5 L168.03 384.14 L168.17 384.55 L168.3 386.76 L168.43 386.39 L168.57 387.45 L168.7 390.38 L168.83 390.82 L168.97 392.31 L169.1 392.37 L169.23 394.52 L169.37 395.34 L169.5 396.73 L169.63 397.51 L169.77 399.37 L169.9 399.8 L170.04 400.53 L170.17 401.46 L170.31 402.27 L170.44 404.92 L170.58 404.93 L170.71 405.87 L170.85 407.04 L170.98 408.44 L171.12 409.09 L171.25 410.75 L171.39 411.68 L171.52 412.83 L171.66 413.72 L171.79 415.38 L171.93 416.22 L172.06 417.65 L172.2 418.7 L172.35 419.98 L172.49 421.17 L172.64 420.98 L172.79 423 L172.93 424.02 L173.08 425.98 L173.23 425.91 L173.37 427.51 L173.52 428.87 L173.67 430 L173.81 431.81 L173.96 432.24 L174.11 434.08 L174.25 434.04 L174.4 435.9 L174.55 436.13 L174.7 438.7 L174.85 439.43 L175 440.56 L175.15 441.49 L175.3 442.77 L175.45 443.09 L175.6 445.19 L175.75 445.63 L175.9 447.41 L176.05 448.12 L176.2 448.32 L176.35 449.74 L176.5 451.4 L176.72 453.03 L176.93 453.64 L177.15 454.69 L177.37 456.1 L177.58 456.98 L177.8 458.08 L178.02 459.49 L178.23 460.66 L178.45 462.33 L178.67 462.92 L178.88 464.75 L179.1 465.2 L179.38 466.99 L179.66 468.1 L179.93 469 L180.21 469.82 L180.49 470.97 L180.77 472.02 L181.04 472.98 L181.32 474.33 L181.6 475.5 L181.97 476.41 L182.34 478.18 L182.71 478.95 L183.09 479.78 L183.46 480.49 L183.83 482.09 L184.2 483.2 L184.85 484.18 L185.5 485.11 L186.15 486.19 L186.8 487.5 L188.1 487.81 L189.4 488.9 L190.52 488.99 L191.64 488.89 L192.76 489 L193.88 488.9 L195 488.9" fill="none" stroke="#5fae4a" stroke-width="1.15" stroke-linejoin="round"/>
<path d="M112 488.7 L113.5 488.12 L115 487.6 L116.33 487.74 L117.67 487.36 L119 487.2 L120.33 487.33 L121.67 487.33 L123 487.5 L124.33 487.69 L125.67 488.36 L127 488.4 L128.18 488.6 L129.36 488.76 L130.55 488.45 L131.73 488.55 L132.91 488.44 L134.09 488.77 L135.27 488.43 L136.45 488.78 L137.64 488.9 L138.82 488.98 L140 488.8 L141.16 488.6 L142.31 488.86 L143.47 488.51 L144.63 488.45 L145.79 488.3 L146.94 488.65 L148.1 488.4 L148.75 487.64 L149.4 486.13 L150.05 485.01 L150.7 484.1 L151.01 482.94 L151.32 482.59 L151.64 481.14 L151.95 479.65 L152.26 478.22 L152.57 477.45 L152.89 476.93 L153.2 475.5 L153.4 474.94 L153.6 473.13 L153.8 471.84 L154 470.75 L154.2 469.13 L154.4 468.95 L154.6 467.11 L154.8 466.73 L155 465.2 L155.12 463.46 L155.24 462.51 L155.36 461.99 L155.49 460.48 L155.61 459.97 L155.73 458.56 L155.85 456.98 L155.97 456.6 L156.09 455.58 L156.21 453.33 L156.34 453.79 L156.46 452.13 L156.58 451.13 L156.7 449.7 L156.79 447.78 L156.87 447.17 L156.96 446.22 L157.04 445.76 L157.13 443.5 L157.21 442.65 L157.3 441.01 L157.39 440.73 L157.47 439.9 L157.56 437.83 L157.64 437.24 L157.73 436.66 L157.81 436.08 L157.9 434.2 L158 433.42 L158.1 431.83 L158.2 430.29 L158.3 429.3 L158.4 428.33 L158.5 427.63 L158.6 426.42 L158.7 426.21 L158.8 424.39 L158.9 422.56 L159 422.84 L159.1 421.42 L159.2 419.86 L159.3 418.7 L159.39 417.16 L159.47 415.38 L159.56 414.7 L159.65 414.62 L159.73 412.52 L159.82 411.08 L159.91 410.78 L159.99 409.66 L160.08 408.73 L160.17 407.61 L160.25 406.9 L160.34 404.45 L160.43 404.36 L160.51 402.07 L160.6 401.5 L160.69 400.8 L160.77 399.39 L160.86 398.32 L160.94 397.65 L161.03 395.95 L161.11 395.53 L161.2 394.28 L161.29 392.73 L161.37 391.19 L161.46 389.96 L161.54 388.99 L161.63 388.09 L161.71 387.09 L161.8 386 L161.9 386.73 L162 384.1 L162.1 383.04 L162.2 380.85 L162.3 379.79 L162.4 378.89 L162.5 378.07 L162.6 376.13 L162.7 376.7 L162.8 374.13 L162.9 374.06 L163 372.2 L163.12 369.51 L163.24 369.91 L163.37 368.95 L163.49 367.75 L163.61 366.88 L163.73 365.52 L163.86 364.3 L163.98 361.75 L164.1 361.9 L164.3 360.18 L164.5 357.83 L164.7 358.66 L164.9 357 L165.12 358.44 L165.35 359.32 L165.58 360.11 L165.8 361.9 L165.86 362.65 L165.92 365.45 L165.98 366.52 L166.03 366.46 L166.09 368.51 L166.15 367.74 L166.21 368.66 L166.27 370.78 L166.32 371.67 L166.38 373.03 L166.44 374.67 L166.5 375.7 L166.58 378.81 L166.67 377.56 L166.75 379.16 L166.83 380.44 L166.92 381.39 L167 383.14 L167.08 384.82 L167.17 384.05 L167.25 386.08 L167.33 386.95 L167.42 388.48 L167.5 389.4 L167.6 389.61 L167.7 390.62 L167.8 391.43 L167.9 394.32 L168 395.27 L168.1 396.34 L168.2 396.03 L168.3 398.38 L168.4 399.3 L168.5 400.07 L168.6 401.51 L168.7 403.2 L168.82 404.71 L168.94 405.73 L169.06 406.51 L169.19 407.92 L169.31 408.39 L169.43 409.88 L169.55 410.97 L169.67 412.37 L169.79 413.13 L169.91 414.19 L170.04 415.3 L170.16 416.13 L170.28 418.81 L170.4 418.7 L170.55 420.13 L170.7 421.23 L170.85 423.36 L171 424.04 L171.15 423.64 L171.3 425.96 L171.45 427.18 L171.6 428.86 L171.75 429.72 L171.9 430.59 L172.05 430.76 L172.2 432.5 L172.35 433.16 L172.51 434.81 L172.66 436.02 L172.82 436.37 L172.97 437.77 L173.13 438.86 L173.28 440.16 L173.44 441.38 L173.59 442.19 L173.75 442.84 L173.9 444.5 L174.05 446.15 L174.21 447.39 L174.36 447.73 L174.52 449.31 L174.67 450.15 L174.83 451.33 L174.98 452.34 L175.14 452.91 L175.29 454.56 L175.45 455.82 L175.6 456.5 L175.84 457.24 L176.07 459.48 L176.31 460.62 L176.55 461.6 L176.78 462.76 L177.02 463.38 L177.25 464.07 L177.49 465.08 L177.73 466.11 L177.96 467.54 L178.2 468.6 L178.52 469.66 L178.85 470.97 L179.18 471.16 L179.5 473.65 L179.82 474.69 L180.15 475.04 L180.48 476.33 L180.8 477.2 L181.23 478.49 L181.67 479.58 L182.1 480.59 L182.53 481.77 L182.97 482.75 L183.4 484.1 L184.23 485.27 L185.07 486.36 L185.9 487.5 L187.2 488.01 L188.5 488.4 L189.67 488.39 L190.83 488.67 L192 488.8" fill="none" stroke="#c8202e" stroke-width="1.15" stroke-linejoin="round"/>
<rect x="59.3" y="357" width="176.7" height="132.3" fill="none" stroke="#000" stroke-width="1.5"/>
<line x1="54.8" y1="489.3" x2="59.3" y2="489.3" stroke="#000" stroke-width="1.3"/>
<text x="50.4" y="493.3" text-anchor="end" class="n" textLength="6.75" lengthAdjust="spacingAndGlyphs">0</text>
<line x1="54.8" y1="456.23" x2="59.3" y2="456.23" stroke="#000" stroke-width="1.3"/>
<text x="50.4" y="460.23" text-anchor="end" class="n" textLength="20.25" lengthAdjust="spacingAndGlyphs">200</text>
<line x1="54.8" y1="423.15" x2="59.3" y2="423.15" stroke="#000" stroke-width="1.3"/>
<text x="50.4" y="427.15" text-anchor="end" class="n" textLength="20.25" lengthAdjust="spacingAndGlyphs">400</text>
<line x1="54.8" y1="390.07" x2="59.3" y2="390.07" stroke="#000" stroke-width="1.3"/>
<text x="50.4" y="394.07" text-anchor="end" class="n" textLength="20.25" lengthAdjust="spacingAndGlyphs">600</text>
<line x1="54.8" y1="357" x2="59.3" y2="357" stroke="#000" stroke-width="1.3"/>
<text x="50.4" y="361" text-anchor="end" class="n" textLength="20.25" lengthAdjust="spacingAndGlyphs">800</text>
<line x1="59.34" y1="489.3" x2="59.34" y2="492.9" stroke="#000" stroke-width="1.2"/>
<line x1="65.56" y1="489.3" x2="65.56" y2="492.9" stroke="#000" stroke-width="1.2"/>
<line x1="69.97" y1="489.3" x2="69.97" y2="492.9" stroke="#000" stroke-width="1.2"/>
<line x1="73.4" y1="489.3" x2="73.4" y2="492.9" stroke="#000" stroke-width="1.2"/>
<line x1="76.2" y1="489.3" x2="76.2" y2="492.9" stroke="#000" stroke-width="1.2"/>
<line x1="78.56" y1="489.3" x2="78.56" y2="492.9" stroke="#000" stroke-width="1.2"/>
<line x1="80.61" y1="489.3" x2="80.61" y2="492.9" stroke="#000" stroke-width="1.2"/>
<line x1="82.42" y1="489.3" x2="82.42" y2="492.9" stroke="#000" stroke-width="1.2"/>
<line x1="84.04" y1="489.3" x2="84.04" y2="493.5" stroke="#000" stroke-width="1.2"/>
<line x1="94.68" y1="489.3" x2="94.68" y2="492.9" stroke="#000" stroke-width="1.2"/>
<line x1="100.9" y1="489.3" x2="100.9" y2="492.9" stroke="#000" stroke-width="1.2"/>
<line x1="105.31" y1="489.3" x2="105.31" y2="492.9" stroke="#000" stroke-width="1.2"/>
<line x1="108.74" y1="489.3" x2="108.74" y2="492.9" stroke="#000" stroke-width="1.2"/>
<line x1="111.54" y1="489.3" x2="111.54" y2="492.9" stroke="#000" stroke-width="1.2"/>
<line x1="113.9" y1="489.3" x2="113.9" y2="492.9" stroke="#000" stroke-width="1.2"/>
<line x1="115.95" y1="489.3" x2="115.95" y2="492.9" stroke="#000" stroke-width="1.2"/>
<line x1="117.76" y1="489.3" x2="117.76" y2="492.9" stroke="#000" stroke-width="1.2"/>
<line x1="119.38" y1="489.3" x2="119.38" y2="493.5" stroke="#000" stroke-width="1.2"/>
<line x1="130.02" y1="489.3" x2="130.02" y2="492.9" stroke="#000" stroke-width="1.2"/>
<line x1="136.24" y1="489.3" x2="136.24" y2="492.9" stroke="#000" stroke-width="1.2"/>
<line x1="140.65" y1="489.3" x2="140.65" y2="492.9" stroke="#000" stroke-width="1.2"/>
<line x1="144.08" y1="489.3" x2="144.08" y2="492.9" stroke="#000" stroke-width="1.2"/>
<line x1="146.88" y1="489.3" x2="146.88" y2="492.9" stroke="#000" stroke-width="1.2"/>
<line x1="149.24" y1="489.3" x2="149.24" y2="492.9" stroke="#000" stroke-width="1.2"/>
<line x1="151.29" y1="489.3" x2="151.29" y2="492.9" stroke="#000" stroke-width="1.2"/>
<line x1="153.1" y1="489.3" x2="153.1" y2="492.9" stroke="#000" stroke-width="1.2"/>
<line x1="154.72" y1="489.3" x2="154.72" y2="493.5" stroke="#000" stroke-width="1.2"/>
<line x1="165.36" y1="489.3" x2="165.36" y2="492.9" stroke="#000" stroke-width="1.2"/>
<line x1="171.58" y1="489.3" x2="171.58" y2="492.9" stroke="#000" stroke-width="1.2"/>
<line x1="175.99" y1="489.3" x2="175.99" y2="492.9" stroke="#000" stroke-width="1.2"/>
<line x1="179.42" y1="489.3" x2="179.42" y2="492.9" stroke="#000" stroke-width="1.2"/>
<line x1="182.22" y1="489.3" x2="182.22" y2="492.9" stroke="#000" stroke-width="1.2"/>
<line x1="184.58" y1="489.3" x2="184.58" y2="492.9" stroke="#000" stroke-width="1.2"/>
<line x1="186.63" y1="489.3" x2="186.63" y2="492.9" stroke="#000" stroke-width="1.2"/>
<line x1="188.44" y1="489.3" x2="188.44" y2="492.9" stroke="#000" stroke-width="1.2"/>
<line x1="190.06" y1="489.3" x2="190.06" y2="493.5" stroke="#000" stroke-width="1.2"/>
<line x1="200.7" y1="489.3" x2="200.7" y2="492.9" stroke="#000" stroke-width="1.2"/>
<line x1="206.92" y1="489.3" x2="206.92" y2="492.9" stroke="#000" stroke-width="1.2"/>
<line x1="211.33" y1="489.3" x2="211.33" y2="492.9" stroke="#000" stroke-width="1.2"/>
<line x1="214.76" y1="489.3" x2="214.76" y2="492.9" stroke="#000" stroke-width="1.2"/>
<line x1="217.56" y1="489.3" x2="217.56" y2="492.9" stroke="#000" stroke-width="1.2"/>
<line x1="219.92" y1="489.3" x2="219.92" y2="492.9" stroke="#000" stroke-width="1.2"/>
<line x1="221.97" y1="489.3" x2="221.97" y2="492.9" stroke="#000" stroke-width="1.2"/>
<line x1="223.78" y1="489.3" x2="223.78" y2="492.9" stroke="#000" stroke-width="1.2"/>
<line x1="225.4" y1="489.3" x2="225.4" y2="493.5" stroke="#000" stroke-width="1.2"/>
<line x1="59.3" y1="489.3" x2="59.3" y2="493.8" stroke="#000" stroke-width="1.3"/>
<line x1="236" y1="489.3" x2="236" y2="493.8" stroke="#000" stroke-width="1.3"/>
<text x="47" y="508.2" class="n" textLength="12.6" lengthAdjust="spacingAndGlyphs">10</text><text x="60.4" y="503" class="s" textLength="11.6" lengthAdjust="spacingAndGlyphs">1.3</text>
<text x="75.79" y="508.2" class="n" textLength="12.6" lengthAdjust="spacingAndGlyphs">10</text><text x="88.79" y="503.3" class="s">2</text>
<text x="111.13" y="508.2" class="n" textLength="12.6" lengthAdjust="spacingAndGlyphs">10</text><text x="124.13" y="503.3" class="s">3</text>
<text x="146.47" y="508.2" class="n" textLength="12.6" lengthAdjust="spacingAndGlyphs">10</text><text x="159.47" y="503.3" class="s">4</text>
<text x="181.81" y="508.2" class="n" textLength="12.6" lengthAdjust="spacingAndGlyphs">10</text><text x="194.81" y="503.3" class="s">5</text>
<text x="223.7" y="508.2" class="n" textLength="12.6" lengthAdjust="spacingAndGlyphs">10</text><text x="237.1" y="503" class="s" textLength="11.6" lengthAdjust="spacingAndGlyphs">6.3</text>
<text transform="translate(147.65 527.4) scale(0.58 1)" x="0" y="0" text-anchor="middle" class="ax" textLength="94.83" lengthAdjust="spacing">Fluorescence</text>
<text transform="translate(22.9 423.15) rotate(-90) scale(0.58 1)" x="0" y="0" text-anchor="middle" class="ax" textLength="73.1" lengthAdjust="spacing">Cell count</text>
<text x="68.1" y="372.6" class="t" textLength="49.7" lengthAdjust="spacingAndGlyphs">Alexa-7E3</text>
<path d="M325 489 L326.35 489 L327.7 489 L329.05 488.84 L330.4 489 L331.7 488.74 L333 488.52 L334.3 488.13 L335.6 487.7 L336.73 487.33 L337.87 487 L339 486.8 L340.17 487.05 L341.33 487.54 L342.5 487.7 L343.67 487.14 L344.83 485.93 L346 485.1 L347.13 484.52 L348.27 484.32 L349.4 483.8 L350.27 482.82 L351.13 481.5 L352 480.7 L352.87 479.36 L353.73 478.4 L354.6 477.3 L355.17 476.34 L355.73 474.6 L356.3 473.8 L357.2 472.17 L358.1 471.2 L360.1 472.1 L360.57 471.1 L361.03 469.35 L361.5 468.6 L362.15 467.56 L362.8 466.58 L363.45 465.33 L364.1 464.3 L364.53 462.84 L364.95 462.13 L365.38 460.95 L365.8 460 L366.02 458.97 L366.23 457.33 L366.45 456.94 L366.67 454.64 L366.88 454.09 L367.1 453 L367.43 451.87 L367.77 451.15 L368.1 449.6 L368.3 448.18 L368.5 447.54 L368.7 445.9 L368.9 445.33 L369.1 444.64 L369.3 442.7 L369.49 441.36 L369.68 440.6 L369.87 438.79 L370.06 438.54 L370.24 437.51 L370.43 435.78 L370.62 434.06 L370.81 433.65 L371 432.3 L371.15 431.72 L371.3 430.53 L371.45 429.24 L371.6 426.73 L371.75 426.16 L371.9 426.09 L372.05 423.55 L372.2 423.63 L372.35 422.87 L372.5 421.12 L372.65 420.16 L372.8 418.4 L372.97 416.99 L373.14 415.27 L373.31 414.66 L373.49 413.38 L373.66 412.23 L373.83 411.42 L374 409.8 L374.35 408.42 L374.7 407.31 L375.05 406.14 L375.4 404.6 L375.92 403.56 L376.44 403.6 L376.96 401.74 L377.48 400.49 L378 399.4 L378.85 400.58 L379.7 402 L380.12 402.94 L380.55 405.38 L380.97 405.99 L381.4 407.2 L381.86 407.79 L382.32 409.28 L382.78 410.72 L383.24 411.75 L383.7 413.2 L383.95 414.89 L384.2 414.74 L384.45 416.73 L384.7 417.63 L384.95 418 L385.2 419.75 L385.45 420.76 L385.7 421.9 L386.02 423.25 L386.35 423.84 L386.68 425.32 L387 425.39 L387.32 426.78 L387.65 428.83 L387.98 430.04 L388.3 430.6 L388.54 431.69 L388.77 432.5 L389.01 434.43 L389.25 433.98 L389.48 435.71 L389.72 437.52 L389.95 438.61 L390.19 438.91 L390.43 439.61 L390.66 442.28 L390.9 442.7 L391.14 443.87 L391.37 444.49 L391.61 446.02 L391.85 447.5 L392.08 447.06 L392.32 449.78 L392.55 450.72 L392.79 450.61 L393.03 452.93 L393.26 452.96 L393.5 454.8 L393.79 456.42 L394.08 457.27 L394.37 459.16 L394.66 459.18 L394.94 460.58 L395.23 462.13 L395.52 462.65 L395.81 463.78 L396.1 465.2 L396.43 466.14 L396.75 467.32 L397.07 468.05 L397.4 469.67 L397.73 470.76 L398.05 471.67 L398.38 473.28 L398.7 473.8 L399.22 474.74 L399.74 476.28 L400.26 476.76 L400.78 478.18 L401.3 479 L402 479.33 L402.7 480.77 L403.4 481.53 L404.1 482.32 L404.8 483.3 L405.65 484.03 L406.5 484.97 L407.35 485.77 L408.2 486.8 L409.1 487.09 L410 488.2 L411.33 488.33 L412.67 488.58 L414 488.9" fill="none" stroke="#111" stroke-width="1.15" stroke-linejoin="round"/>
<path d="M385 489 L386.25 488.72 L387.5 488.43 L388.75 488.38 L390 488.2 L391.25 488.02 L392.5 487.5 L393.75 487.13 L395 486.9 L396.15 486.8 L397.3 486.35 L398.45 485.97 L399.6 485.4 L400.75 485.09 L401.9 484.17 L403.05 483.64 L404.2 483.1 L405.23 482.35 L406.27 480.89 L407.3 480 L407.88 479.02 L408.45 478.21 L409.03 477.26 L409.6 476.2 L409.93 475.01 L410.26 474.31 L410.59 472.84 L410.91 472.04 L411.24 471.06 L411.57 469.83 L411.9 468.5 L412.23 467.66 L412.56 465.88 L412.89 464.72 L413.21 463.87 L413.54 463.18 L413.87 462.47 L414.2 460.8 L414.6 459.17 L415 458.62 L415.4 457.01 L415.8 456.2 L416.55 454.7 L417.3 453.8 L417.6 452.62 L417.9 451.98 L418.2 450.71 L418.5 450.07 L418.8 448.5 L419.12 446.82 L419.44 446.42 L419.76 445.2 L420.08 443.57 L420.4 442.3 L420.77 441.37 L421.15 439.73 L421.52 438.33 L421.9 437.7 L422.28 436.47 L422.67 435.32 L423.05 436.02 L423.43 433.33 L423.82 433.35 L424.2 431.5 L424.66 430.38 L425.12 429.22 L425.58 428.22 L426.04 426.22 L426.5 425.4 L426.83 424.78 L427.16 423.4 L427.49 421.3 L427.81 421.32 L428.14 420.2 L428.47 419.04 L428.8 417.7 L429.4 417.42 L430 415.17 L430.6 414.53 L431.2 413.1 L431.57 412.37 L431.95 410.29 L432.32 410.33 L432.7 408.5 L433.2 406.64 L433.7 405.69 L434.2 405.4 L434.48 404.55 L434.75 402.46 L435.02 401.88 L435.3 400.8 L435.75 398.27 L436.2 397.7 L436.5 399.29 L436.8 400.8 L436.91 401.32 L437.02 403.38 L437.13 403.48 L437.24 405.81 L437.36 406.59 L437.47 407.97 L437.58 409.08 L437.69 410.38 L437.8 411.5 L437.94 411.86 L438.09 412.28 L438.23 414.82 L438.37 415.39 L438.51 416.75 L438.66 418.33 L438.8 419.2 L439.12 419.38 L439.44 421.27 L439.76 422.6 L440.08 423.61 L440.4 425.4 L440.7 426.79 L441 427.77 L441.3 428.64 L441.6 429.78 L441.9 431.5 L442.13 433 L442.36 433.38 L442.59 435.09 L442.81 436.12 L443.04 436.09 L443.27 437.58 L443.5 439.2 L443.71 440.3 L443.93 441.56 L444.14 442.86 L444.36 443.97 L444.57 445.17 L444.79 445.63 L445 446.9 L445.21 447.91 L445.43 449.44 L445.64 450.02 L445.86 451.75 L446.07 451.73 L446.29 453.77 L446.5 454.6 L446.73 455.63 L446.96 456 L447.19 458.29 L447.41 459.12 L447.64 460.11 L447.87 460.79 L448.1 462.3 L448.68 463.28 L449.25 465.16 L449.82 465.45 L450.4 466.9 L450.77 466.83 L451.15 468.91 L451.52 469.94 L451.9 471.5 L452.3 472.63 L452.7 473.73 L453.1 474.74 L453.5 476.2 L454.07 477.1 L454.65 478.8 L455.23 479.25 L455.8 480.8 L456.38 482.25 L456.95 482.56 L457.53 483.39 L458.1 484.6 L459.13 485.54 L460.17 486.25 L461.2 486.9 L462.7 487.36 L464.2 488.2 L465.47 488.56 L466.73 488.37 L468 488.9" fill="none" stroke="#c8202e" stroke-width="1.15" stroke-linejoin="round"/>
<path d="M416 489 L417.1 488.53 L418.2 488.54 L419.3 487.98 L420.4 487.7 L420.97 486.46 L421.55 485.86 L422.12 484.98 L422.7 483.8 L422.99 482.64 L423.27 481.03 L423.56 480.26 L423.85 479.32 L424.14 478.27 L424.43 477.45 L424.71 475.67 L425 474.6 L425.19 473.3 L425.38 472.29 L425.56 471.55 L425.75 469.68 L425.94 469.3 L426.12 466.73 L426.31 466.84 L426.5 465.4 L426.65 464.03 L426.79 463.34 L426.94 462.31 L427.08 460.47 L427.23 459.78 L427.37 458.79 L427.52 457.81 L427.66 456.08 L427.81 454.93 L427.95 453.42 L428.1 453.1 L428.23 453.02 L428.35 450.7 L428.48 449.53 L428.6 447.81 L428.73 447.72 L428.85 445.91 L428.98 445.64 L429.1 444.22 L429.23 442.68 L429.35 441.86 L429.48 439.84 L429.6 439.2 L429.75 437.93 L429.89 436.69 L430.04 435.23 L430.18 434.74 L430.33 433.54 L430.47 433.2 L430.62 429.69 L430.76 429.92 L430.91 428.67 L431.05 427.78 L431.2 426.9 L431.37 425.93 L431.53 424.73 L431.7 423.35 L431.87 421.89 L432.03 421.22 L432.2 419.96 L432.37 417.58 L432.53 417.25 L432.7 416.2 L432.81 414.34 L432.91 413.35 L433.02 412.98 L433.13 411.83 L433.24 410.76 L433.34 409.1 L433.45 408.39 L433.56 406.88 L433.66 406.52 L433.77 405.6 L433.88 405.12 L433.99 403.74 L434.09 401.43 L434.2 400.8 L434.28 399.43 L434.36 398.04 L434.44 397.68 L434.51 397.59 L434.59 395.73 L434.67 392.86 L434.75 392.33 L434.83 391.21 L434.91 391.22 L434.99 389.8 L435.06 388.89 L435.14 388.71 L435.22 385.98 L435.3 385.4 L435.38 383.75 L435.46 384.41 L435.55 382.26 L435.63 380.43 L435.71 378.5 L435.79 377.71 L435.87 375.99 L435.95 376.5 L436.04 375.37 L436.12 374.87 L436.2 373.1 L436.33 371.82 L436.46 370.27 L436.59 369.05 L436.71 369.63 L436.84 365.98 L436.97 366.1 L437.1 364.8 L437.37 366.05 L437.63 367.68 L437.9 368.5 L438.2 369.4 L438.5 371.16 L438.8 372 L439.02 373.66 L439.25 374.15 L439.48 375.08 L439.7 376.5 L439.78 377.55 L439.87 378.21 L439.95 379.87 L440.03 380.97 L440.12 382.47 L440.2 383.5 L440.48 385.44 L440.76 386.52 L441.04 386.52 L441.32 388.28 L441.6 389 L441.77 390.35 L441.93 391.8 L442.1 392.51 L442.27 393.83 L442.43 394.55 L442.6 396 L442.77 396.7 L442.93 398.85 L443.1 400.27 L443.27 401.06 L443.43 402.09 L443.6 403 L443.82 404.31 L444.04 405.06 L444.26 405.45 L444.48 408.02 L444.7 408.91 L444.92 409.65 L445.14 410.58 L445.36 412.99 L445.58 412.44 L445.8 414.6 L446.01 416.69 L446.22 417.19 L446.43 419.24 L446.64 418.69 L446.85 420.18 L447.05 421.04 L447.26 422.51 L447.47 423.44 L447.68 424.27 L447.89 426.34 L448.1 426.9 L448.33 427.58 L448.56 428.8 L448.79 430.42 L449.02 430.95 L449.25 432.08 L449.48 433.56 L449.71 434.28 L449.94 434.93 L450.17 436.57 L450.4 437.7 L450.67 438.81 L450.93 440.94 L451.2 440.84 L451.47 443.01 L451.73 443.42 L452 445 L452.15 445.96 L452.3 447.09 L452.45 448.48 L452.6 449.86 L452.75 451.35 L452.9 451.45 L453.05 453.4 L453.2 454.38 L453.35 455.42 L453.5 456.2 L453.77 457.01 L454.05 458.79 L454.32 459.51 L454.59 460.81 L454.86 461.69 L455.14 463.16 L455.41 464.44 L455.68 465.56 L455.95 466.19 L456.23 467.73 L456.5 468.5 L456.89 470.15 L457.27 470.49 L457.66 472.43 L458.05 472.67 L458.44 474.42 L458.83 475.58 L459.21 476.99 L459.6 477.7 L460.22 478.7 L460.84 479.41 L461.46 480.25 L462.08 481.05 L462.7 482.3 L463.73 483.52 L464.77 484.31 L465.8 485.4 L466.8 486.02 L467.8 487.04 L468.8 487.7 L469.87 487.97 L470.93 488.43 L472 488.9" fill="none" stroke="#5fae4a" stroke-width="1.15" stroke-linejoin="round"/>
<path d="M416 489 L417.3 488.6 L418.6 488.63 L419.9 488.28 L421.2 487.7 L422.35 486.52 L423.5 485.4 L424.07 483.88 L424.65 483.17 L425.23 481.97 L425.8 480.8 L426.1 479.66 L426.4 478.48 L426.7 476.99 L427 476.12 L427.3 474.6 L427.45 473.72 L427.6 472.37 L427.75 471.01 L427.9 469.84 L428.05 469.09 L428.2 467.31 L428.35 466.49 L428.5 465.4 L428.62 463.92 L428.74 462.48 L428.87 462.03 L428.99 460.59 L429.11 459.41 L429.23 458.55 L429.36 456.4 L429.48 455.77 L429.6 454.6 L429.72 453.52 L429.84 452.55 L429.97 450.53 L430.09 450.11 L430.21 448.7 L430.33 448 L430.46 446.71 L430.58 445.25 L430.7 443.8 L430.83 443.6 L430.97 441.42 L431.1 440.03 L431.23 438.88 L431.37 437.41 L431.5 436.65 L431.63 434.56 L431.77 434.25 L431.9 433.1 L432.04 432.11 L432.19 431.2 L432.33 429.32 L432.48 429.01 L432.62 426.77 L432.77 425.83 L432.91 423.72 L433.06 423.1 L433.2 422.3 L433.29 420.76 L433.38 420.85 L433.47 419.22 L433.56 417.24 L433.65 416.99 L433.75 415.85 L433.84 414.35 L433.93 413.37 L434.02 412.07 L434.11 410.82 L434.2 410 L434.27 407.85 L434.34 407.61 L434.41 407.21 L434.48 406.13 L434.55 403.99 L434.62 402.55 L434.69 401.69 L434.76 401.16 L434.83 399.67 L434.9 398.3 L434.96 396.78 L435.01 396.16 L435.07 394.64 L435.12 393.9 L435.18 392.17 L435.23 390.35 L435.29 390.09 L435.34 389.34 L435.4 387.7 L435.44 385.9 L435.48 385.38 L435.52 384.87 L435.57 382.97 L435.61 381.67 L435.65 382.22 L435.69 380.35 L435.73 379.35 L435.77 376.98 L435.82 377.49 L435.86 374.27 L435.9 374.2 L436.06 372.62 L436.21 372.19 L436.37 371.33 L436.53 368.62 L436.69 367.55 L436.84 366.87 L437 365.5 L437.4 365.49 L437.8 368 L438.05 369.49 L438.3 370.51 L438.55 370.94 L438.8 372.3 L439.1 373.94 L439.4 375.39 L439.7 376.2 L439.78 377.66 L439.87 379.06 L439.95 380.94 L440.03 380.97 L440.12 382.63 L440.2 383.8 L440.55 384.71 L440.9 386.88 L441.25 387.23 L441.6 388.7 L441.77 390.25 L441.93 391.31 L442.1 392.54 L442.27 394.78 L442.43 394.98 L442.6 396.3 L442.77 398.26 L442.93 399.04 L443.1 400.46 L443.27 400.74 L443.43 402.49 L443.6 403.1 L443.82 404.68 L444.04 405.06 L444.26 406.7 L444.48 407.63 L444.7 408.83 L444.92 410.71 L445.14 410.76 L445.36 411.39 L445.58 412.52 L445.8 414.6 L446.01 415.48 L446.22 416.5 L446.43 417.96 L446.64 419.37 L446.85 421.1 L447.05 421.47 L447.26 422.66 L447.47 423.17 L447.68 424.96 L447.89 426.46 L448.1 426.9 L448.33 428.64 L448.56 428.1 L448.79 430.57 L449.02 431.99 L449.25 432.7 L449.48 432.67 L449.71 434.31 L449.94 435.82 L450.17 436.81 L450.4 437.7 L450.97 438.48 L451.55 439.6 L452.12 441.58 L452.7 442.3 L452.99 442.86 L453.27 445.23 L453.56 445.76 L453.85 447.03 L454.14 447.48 L454.43 448.95 L454.71 450.64 L455 451.5 L455.33 452 L455.66 454.53 L455.99 454.24 L456.31 455.42 L456.64 457.02 L456.97 458.29 L457.3 459.2 L457.68 460.51 L458.07 461.13 L458.45 462.22 L458.83 463.25 L459.22 464.16 L459.6 465.4 L460.06 465.73 L460.52 468.17 L460.98 469.14 L461.44 470.33 L461.9 471.5 L462.67 472.34 L463.43 473.64 L464.2 474.6 L464.97 475.63 L465.73 476.64 L466.5 477.7 L467.27 479.03 L468.03 479.31 L468.8 480.8 L469.6 481.86 L470.4 482.55 L471.2 483.8 L471.97 484.76 L472.73 486.17 L473.5 486.9 L474.75 487.56 L476 488.6 L477.33 488.72 L478.67 488.78 L480 489" fill="none" stroke="#2c2c88" stroke-width="1.15" stroke-linejoin="round"/>
<rect x="320.7" y="357" width="176.4" height="132.3" fill="none" stroke="#000" stroke-width="1.5"/>
<line x1="316.2" y1="489.3" x2="320.7" y2="489.3" stroke="#000" stroke-width="1.3"/>
<text x="311.8" y="493.3" text-anchor="end" class="n" textLength="6.75" lengthAdjust="spacingAndGlyphs">0</text>
<line x1="316.2" y1="445.2" x2="320.7" y2="445.2" stroke="#000" stroke-width="1.3"/>
<text x="311.8" y="449.2" text-anchor="end" class="n" textLength="20.25" lengthAdjust="spacingAndGlyphs">200</text>
<line x1="316.2" y1="401.1" x2="320.7" y2="401.1" stroke="#000" stroke-width="1.3"/>
<text x="311.8" y="405.1" text-anchor="end" class="n" textLength="20.25" lengthAdjust="spacingAndGlyphs">400</text>
<line x1="316.2" y1="357" x2="320.7" y2="357" stroke="#000" stroke-width="1.3"/>
<text x="311.8" y="361" text-anchor="end" class="n" textLength="20.25" lengthAdjust="spacingAndGlyphs">600</text>
<line x1="320.7" y1="489.3" x2="320.7" y2="493.5" stroke="#000" stroke-width="1.2"/>
<line x1="331.32" y1="489.3" x2="331.32" y2="492.9" stroke="#000" stroke-width="1.2"/>
<line x1="337.53" y1="489.3" x2="337.53" y2="492.9" stroke="#000" stroke-width="1.2"/>
<line x1="341.94" y1="489.3" x2="341.94" y2="492.9" stroke="#000" stroke-width="1.2"/>
<line x1="345.36" y1="489.3" x2="345.36" y2="492.9" stroke="#000" stroke-width="1.2"/>
<line x1="348.15" y1="489.3" x2="348.15" y2="492.9" stroke="#000" stroke-width="1.2"/>
<line x1="350.52" y1="489.3" x2="350.52" y2="492.9" stroke="#000" stroke-width="1.2"/>
<line x1="352.56" y1="489.3" x2="352.56" y2="492.9" stroke="#000" stroke-width="1.2"/>
<line x1="354.37" y1="489.3" x2="354.37" y2="492.9" stroke="#000" stroke-width="1.2"/>
<line x1="355.98" y1="489.3" x2="355.98" y2="493.5" stroke="#000" stroke-width="1.2"/>
<line x1="366.6" y1="489.3" x2="366.6" y2="492.9" stroke="#000" stroke-width="1.2"/>
<line x1="372.81" y1="489.3" x2="372.81" y2="492.9" stroke="#000" stroke-width="1.2"/>
<line x1="377.22" y1="489.3" x2="377.22" y2="492.9" stroke="#000" stroke-width="1.2"/>
<line x1="380.64" y1="489.3" x2="380.64" y2="492.9" stroke="#000" stroke-width="1.2"/>
<line x1="383.43" y1="489.3" x2="383.43" y2="492.9" stroke="#000" stroke-width="1.2"/>
<line x1="385.8" y1="489.3" x2="385.8" y2="492.9" stroke="#000" stroke-width="1.2"/>
<line x1="387.84" y1="489.3" x2="387.84" y2="492.9" stroke="#000" stroke-width="1.2"/>
<line x1="389.65" y1="489.3" x2="389.65" y2="492.9" stroke="#000" stroke-width="1.2"/>
<line x1="391.26" y1="489.3" x2="391.26" y2="493.5" stroke="#000" stroke-width="1.2"/>
<line x1="401.88" y1="489.3" x2="401.88" y2="492.9" stroke="#000" stroke-width="1.2"/>
<line x1="408.09" y1="489.3" x2="408.09" y2="492.9" stroke="#000" stroke-width="1.2"/>
<line x1="412.5" y1="489.3" x2="412.5" y2="492.9" stroke="#000" stroke-width="1.2"/>
<line x1="415.92" y1="489.3" x2="415.92" y2="492.9" stroke="#000" stroke-width="1.2"/>
<line x1="418.71" y1="489.3" x2="418.71" y2="492.9" stroke="#000" stroke-width="1.2"/>
<line x1="421.08" y1="489.3" x2="421.08" y2="492.9" stroke="#000" stroke-width="1.2"/>
<line x1="423.12" y1="489.3" x2="423.12" y2="492.9" stroke="#000" stroke-width="1.2"/>
<line x1="424.93" y1="489.3" x2="424.93" y2="492.9" stroke="#000" stroke-width="1.2"/>
<line x1="426.54" y1="489.3" x2="426.54" y2="493.5" stroke="#000" stroke-width="1.2"/>
<line x1="437.16" y1="489.3" x2="437.16" y2="492.9" stroke="#000" stroke-width="1.2"/>
<line x1="443.37" y1="489.3" x2="443.37" y2="492.9" stroke="#000" stroke-width="1.2"/>
<line x1="447.78" y1="489.3" x2="447.78" y2="492.9" stroke="#000" stroke-width="1.2"/>
<line x1="451.2" y1="489.3" x2="451.2" y2="492.9" stroke="#000" stroke-width="1.2"/>
<line x1="453.99" y1="489.3" x2="453.99" y2="492.9" stroke="#000" stroke-width="1.2"/>
<line x1="456.36" y1="489.3" x2="456.36" y2="492.9" stroke="#000" stroke-width="1.2"/>
<line x1="458.4" y1="489.3" x2="458.4" y2="492.9" stroke="#000" stroke-width="1.2"/>
<line x1="460.21" y1="489.3" x2="460.21" y2="492.9" stroke="#000" stroke-width="1.2"/>
<line x1="461.82" y1="489.3" x2="461.82" y2="493.5" stroke="#000" stroke-width="1.2"/>
<line x1="472.44" y1="489.3" x2="472.44" y2="492.9" stroke="#000" stroke-width="1.2"/>
<line x1="478.65" y1="489.3" x2="478.65" y2="492.9" stroke="#000" stroke-width="1.2"/>
<line x1="483.06" y1="489.3" x2="483.06" y2="492.9" stroke="#000" stroke-width="1.2"/>
<line x1="486.48" y1="489.3" x2="486.48" y2="492.9" stroke="#000" stroke-width="1.2"/>
<line x1="489.27" y1="489.3" x2="489.27" y2="492.9" stroke="#000" stroke-width="1.2"/>
<line x1="491.64" y1="489.3" x2="491.64" y2="492.9" stroke="#000" stroke-width="1.2"/>
<line x1="493.68" y1="489.3" x2="493.68" y2="492.9" stroke="#000" stroke-width="1.2"/>
<line x1="495.49" y1="489.3" x2="495.49" y2="492.9" stroke="#000" stroke-width="1.2"/>
<line x1="497.1" y1="489.3" x2="497.1" y2="493.5" stroke="#000" stroke-width="1.2"/>
<line x1="320.7" y1="489.3" x2="320.7" y2="493.8" stroke="#000" stroke-width="1.3"/>
<line x1="497.1" y1="489.3" x2="497.1" y2="493.8" stroke="#000" stroke-width="1.3"/>
<text x="312.45" y="508.2" class="n" textLength="12.6" lengthAdjust="spacingAndGlyphs">10</text><text x="325.45" y="503.3" class="s">1</text>
<text x="347.73" y="508.2" class="n" textLength="12.6" lengthAdjust="spacingAndGlyphs">10</text><text x="360.73" y="503.3" class="s">2</text>
<text x="383.01" y="508.2" class="n" textLength="12.6" lengthAdjust="spacingAndGlyphs">10</text><text x="396.01" y="503.3" class="s">3</text>
<text x="418.29" y="508.2" class="n" textLength="12.6" lengthAdjust="spacingAndGlyphs">10</text><text x="431.29" y="503.3" class="s">4</text>
<text x="453.57" y="508.2" class="n" textLength="12.6" lengthAdjust="spacingAndGlyphs">10</text><text x="466.57" y="503.3" class="s">5</text>
<text x="488.85" y="508.2" class="n" textLength="12.6" lengthAdjust="spacingAndGlyphs">10</text><text x="501.85" y="503.3" class="s">6</text>
<text transform="translate(408.9 527.4) scale(0.58 1)" x="0" y="0" text-anchor="middle" class="ax" textLength="94.83" lengthAdjust="spacing">Fluorescence</text>
<text transform="translate(284.3 423.15) rotate(-90) scale(0.58 1)" x="0" y="0" text-anchor="middle" class="ax" textLength="73.1" lengthAdjust="spacing">Cell count</text>
<text x="328.6" y="372.6" class="t" textLength="49.8" lengthAdjust="spacingAndGlyphs">Alexa-7E3</text>
<path d="M60 743.6 L61.4 743.5 L62.8 743.1 L63.96 742.65 L65.12 742.24 L66.28 742.35 L67.44 741.91 L68.6 741.7 L69.57 741 L70.53 740.66 L71.5 739.8 L72.95 740.11 L74.4 740.8 L75.12 739.74 L75.85 738.88 L76.58 737.97 L77.3 736.9 L77.88 735.81 L78.46 735.25 L79.04 734.62 L79.62 732.95 L80.2 732.1 L80.76 731.68 L81.32 729.56 L81.88 729.64 L82.44 728.15 L83 727.3 L83.48 726.23 L83.97 724.96 L84.45 723.74 L84.93 722.4 L85.42 721.58 L85.9 720.6 L86.22 719.93 L86.53 718.74 L86.85 717.07 L87.17 715.87 L87.48 714.67 L87.8 713.8 L87.92 712.14 L88.05 712.1 L88.17 710.46 L88.3 709.05 L88.42 707.6 L88.55 706.18 L88.67 705.95 L88.8 704.2 L89 703.43 L89.2 701.59 L89.4 701.33 L89.6 699.32 L89.8 698.98 L90 697.17 L90.2 696.5 L90.58 697.52 L90.95 699.12 L91.33 700.29 L91.7 701.3 L91.91 700.65 L92.13 698.76 L92.34 698.74 L92.56 697.56 L92.77 695.87 L92.99 695 L93.2 693.7 L93.55 692.12 L93.9 691.18 L94.25 689.41 L94.6 688.8 L94.86 687.7 L95.12 686.62 L95.38 686.03 L95.64 684.7 L95.9 683.1 L96.5 682.55 L97.1 681.2 L97.75 680.02 L98.4 679.2 L99.8 678.3 L100.9 680.2 L102.3 681.2 L102.4 682.23 L102.5 683.31 L102.6 684.73 L102.7 684.83 L102.8 686.9 L103.05 686.07 L103.3 683.74 L103.55 683.05 L103.8 682.1 L104.5 683.06 L105.2 684 L105.27 684.99 L105.34 687.28 L105.41 687.68 L105.49 689.71 L105.56 690.76 L105.63 691.23 L105.7 692.7 L106.17 694.15 L106.63 695.82 L107.1 696.5 L107.6 697.65 L108.1 699.14 L108.6 700.4 L108.95 701.36 L109.3 702.82 L109.65 703.85 L110 705.2 L111.9 706.2 L112.4 707.5 L112.9 709.14 L113.4 710 L113.98 711.5 L114.55 711.95 L115.12 712.93 L115.7 713.8 L116.37 715.09 L117.03 715.63 L117.7 716.7 L118.33 717.28 L118.97 719.03 L119.6 719.6 L120.23 720.24 L120.87 721.85 L121.5 722.5 L122.47 722.81 L123.43 724.37 L124.4 724.4 L125.37 724.69 L126.33 725.94 L127.3 726.3 L128.25 727.77 L129.2 728.3 L129.83 727.03 L130.47 726.84 L131.1 725.4 L132.55 725.59 L134 726.3 L134.63 726.71 L135.27 728.45 L135.9 729.2 L136.85 728.47 L137.8 727.3 L139.25 727.74 L140.7 728.3 L142.15 727.53 L143.6 728.3 L144.9 728.08 L146.2 727.81 L147.5 727.7 L148.75 728.28 L150 729.1 L151.1 728.75 L152.2 728.02 L153.3 728.3 L154.55 728.98 L155.8 730 L156.2 729.49 L156.6 728.38 L157 726.74 L157.4 725.8 L157.97 726.68 L158.53 728.12 L159.1 729.1 L159.63 728.33 L160.17 727.13 L160.7 725.8 L161.53 726.26 L162.37 727.52 L163.2 728.3 L164.05 727.54 L164.9 726.7 L166.5 727.5 L167.33 728.77 L168.17 729.53 L169 730 L170.25 730.55 L171.5 730.8 L172.75 732 L174 732.5 L175.25 732.39 L176.5 732.5 L177.7 733.72 L178.9 734.1 L179.73 734.82 L180.57 735.87 L181.4 736.6 L182.5 737.65 L183.6 738.05 L184.7 739.1 L185.8 739.75 L186.9 740.34 L188 741.5 L189.1 741.93 L190.2 742.29 L191.3 742.7 L192.55 742.77 L193.8 743.03 L195.05 742.72 L196.3 743.2 L197.4 743.28 L198.5 743.38 L199.6 743.41 L200.7 743.66 L201.8 743.88 L202.9 743.7 L204.08 743.68 L205.27 743.66 L206.45 743.76 L207.63 743.9 L208.82 743.9 L210 744" fill="none" stroke="#111" stroke-width="1.15" stroke-linejoin="round"/>
<path d="M155 744 L156.1 743.74 L157.2 743.88 L158.3 743.44 L159.4 743.6 L160.5 743.4 L161.6 743.2 L162.62 742.66 L163.65 742.35 L164.67 741.27 L165.7 740.7 L166.36 739.68 L167.02 738.85 L167.68 737.96 L168.34 736.45 L169 735.8 L169.42 734.76 L169.83 733.37 L170.25 732.63 L170.67 731.73 L171.08 730.23 L171.5 729.1 L171.78 727.97 L172.07 726.96 L172.35 724.85 L172.63 724.95 L172.92 723.79 L173.2 722.5 L173.38 721.46 L173.56 720.16 L173.73 718.94 L173.91 718.04 L174.09 717.44 L174.27 715.86 L174.44 715.31 L174.62 712.72 L174.8 712.6 L174.94 711.32 L175.08 710.51 L175.23 709.29 L175.37 707.53 L175.51 706.83 L175.65 706.51 L175.79 704.36 L175.93 703.38 L176.07 702.23 L176.22 701.36 L176.36 700.78 L176.5 699.4 L176.61 698.56 L176.71 696.28 L176.82 696.73 L176.93 694.71 L177.03 693.6 L177.14 693.53 L177.25 691.62 L177.35 689.97 L177.46 689.14 L177.57 687.99 L177.67 686.74 L177.78 685.96 L177.89 685.44 L177.99 684.08 L178.1 682.8 L178.18 680.97 L178.26 681.89 L178.34 678.85 L178.42 678.26 L178.5 677.07 L178.58 676.29 L178.66 674.58 L178.74 673.84 L178.82 673.55 L178.9 671.3 L179 670.24 L179.1 668.5 L179.2 668.14 L179.3 666.42 L179.4 665.54 L179.5 664.74 L179.6 663.71 L179.7 662.25 L179.8 661.3 L179.88 660.62 L179.96 658.89 L180.04 657.12 L180.12 657.2 L180.2 655.34 L180.28 655.09 L180.36 652.87 L180.44 652.43 L180.52 651.13 L180.6 649.8 L180.67 647.12 L180.73 646.71 L180.8 645.81 L180.87 646.2 L180.93 643.13 L181 643.7 L181.07 642.7 L181.13 641.23 L181.2 640.23 L181.27 638.42 L181.33 637.6 L181.4 636.5 L181.6 635.41 L181.8 634.31 L182 633.26 L182.2 631.6 L182.5 632.57 L182.8 633.37 L183.1 634.9 L184.4 635.7 L185 634.1 L185.6 633.2 L185.97 632.36 L186.33 629.96 L186.7 629.9 L187.13 630.48 L187.57 632.38 L188 634 L189.4 634.9 L190.5 636.5 L190.8 637.41 L191.1 638.84 L191.4 638.64 L191.7 641.5 L191.84 642.48 L191.99 643.72 L192.13 645.52 L192.27 645.07 L192.41 647.25 L192.56 648.89 L192.7 649.8 L193.07 651.18 L193.43 652.69 L193.8 653.1 L193.97 654.87 L194.14 654.85 L194.31 656.97 L194.49 657.6 L194.66 658.51 L194.83 660.98 L195 661.3 L195.19 662.14 L195.37 663.2 L195.56 664.64 L195.74 665.58 L195.93 667.77 L196.11 668.62 L196.3 669.6 L196.49 671.44 L196.68 672.02 L196.87 672.58 L197.06 674.54 L197.24 674.76 L197.43 675.96 L197.62 677.21 L197.81 678.42 L198 679.5 L198.27 681.2 L198.53 681.4 L198.8 682.97 L199.07 683.89 L199.33 684.39 L199.6 686.1 L199.89 686.76 L200.17 688.37 L200.46 689.85 L200.74 690.99 L201.03 692.25 L201.31 693.24 L201.6 694.4 L201.83 695.38 L202.06 696.96 L202.29 697.51 L202.51 698.55 L202.74 700.18 L202.97 700.9 L203.2 702.7 L203.44 703.65 L203.69 704.73 L203.93 705.99 L204.17 707.37 L204.41 708.23 L204.66 709.56 L204.9 710.9 L205.14 711.42 L205.39 713.33 L205.63 714.12 L205.87 715.79 L206.11 715.79 L206.36 717.72 L206.6 719.2 L206.87 720.39 L207.13 720.56 L207.4 722.38 L207.67 723.63 L207.93 724.73 L208.2 725.8 L208.62 726.38 L209.05 727.97 L209.47 729 L209.9 730 L210.43 730.74 L210.95 732.26 L211.47 733.06 L212 734.1 L212.83 735.2 L213.67 736.19 L214.5 737.4 L215.33 738.36 L216.17 739.09 L217 739.9 L218.25 741.18 L219.5 742 L220.7 742.68 L221.9 743.2 L223.27 743.37 L224.63 743.7 L226 744" fill="none" stroke="#2c2c88" stroke-width="1.15" stroke-linejoin="round"/>
<path d="M157 744 L158.24 743.9 L159.48 743.62 L160.72 743.58 L161.96 743.44 L163.2 743.2 L164.25 742.34 L165.3 741.1 L166.35 740.75 L167.4 739.9 L167.95 738.98 L168.5 738 L169.05 736.81 L169.6 736.34 L170.15 735.03 L170.7 734.1 L171.06 732.74 L171.41 731.52 L171.77 730.65 L172.13 729.03 L172.49 727.86 L172.84 727.62 L173.2 725.8 L173.38 725.13 L173.56 723.95 L173.73 722.97 L173.91 721.61 L174.09 719.71 L174.27 719.63 L174.44 718.55 L174.62 717.18 L174.8 715.9 L174.94 714.06 L175.08 714.18 L175.23 713.13 L175.37 711.31 L175.51 710.45 L175.65 709.61 L175.79 708.17 L175.93 707.55 L176.07 706.03 L176.22 705.19 L176.36 703.84 L176.5 702.7 L176.61 700.96 L176.72 700.07 L176.82 700.79 L176.93 698.42 L177.04 697.79 L177.15 696.61 L177.26 695.78 L177.37 694.15 L177.48 692.52 L177.58 691.71 L177.69 689.7 L177.8 689.5 L177.89 688.3 L177.98 687.72 L178.08 685.12 L178.17 685.16 L178.26 684.36 L178.35 683.51 L178.44 681.28 L178.53 680.31 L178.62 678.57 L178.72 677.9 L178.81 677.58 L178.9 676.2 L178.97 676.18 L179.05 673.4 L179.12 673.63 L179.2 672.03 L179.28 670.44 L179.35 670.78 L179.43 667.14 L179.5 667.36 L179.58 666.42 L179.65 666.37 L179.73 665.09 L179.8 663 L179.89 663.16 L179.98 660.88 L180.07 660.25 L180.16 659.37 L180.24 657.79 L180.33 656.61 L180.42 655.19 L180.51 653.96 L180.6 653.1 L180.77 651.2 L180.94 651.87 L181.11 649.28 L181.29 647.13 L181.46 647.33 L181.63 645.97 L181.8 644.8 L182.23 643.81 L182.67 643.7 L183.1 641.5 L183.63 640.34 L184.17 639.14 L184.7 638.2 L184.94 636.55 L185.19 635.81 L185.43 634.37 L185.67 633.59 L185.91 634.24 L186.16 631.33 L186.4 629.9 L186.67 628.25 L186.93 628.94 L187.2 626.6 L187.33 628.25 L187.47 629.32 L187.6 630.36 L187.73 631.52 L187.87 632.53 L188 633.2 L189.4 631.6 L189.77 633.59 L190.13 634.43 L190.5 634.9 L192.2 634.9 L193.3 633.2 L193.63 635.15 L193.97 635.09 L194.3 636.5 L194.47 637.68 L194.64 638.42 L194.81 640.64 L194.99 641.75 L195.16 642.15 L195.33 643.97 L195.5 644.8 L195.66 647.53 L195.82 647.86 L195.98 647.62 L196.14 649.39 L196.3 650.97 L196.46 651.74 L196.62 653.14 L196.78 654.76 L196.94 655.43 L197.1 656.4 L197.24 656.87 L197.38 659.01 L197.53 659.65 L197.67 660.86 L197.81 661.58 L197.95 662.23 L198.09 663.41 L198.23 665.01 L198.38 665.72 L198.52 665.92 L198.66 669.12 L198.8 669.6 L198.96 670.14 L199.12 671.54 L199.28 673.36 L199.44 672.98 L199.6 676.1 L199.76 676.16 L199.92 678.06 L200.08 678.63 L200.24 680.2 L200.4 681.2 L200.71 682.44 L201.03 683.57 L201.34 683.86 L201.66 685.22 L201.97 687.11 L202.29 688.99 L202.6 689.5 L202.82 690.34 L203.04 691.95 L203.27 692.88 L203.49 694.12 L203.71 695.45 L203.93 695.42 L204.16 697.32 L204.38 698.22 L204.6 699.4 L204.78 700.36 L204.96 701.23 L205.13 702.36 L205.31 703.36 L205.49 704.44 L205.67 707.05 L205.84 707.8 L206.02 708.2 L206.2 709.3 L206.39 710.7 L206.58 711.11 L206.77 711.51 L206.96 713 L207.14 714.85 L207.33 716.44 L207.52 716.98 L207.71 717.73 L207.9 719.2 L208.17 720.21 L208.43 721.05 L208.7 722.02 L208.97 723.52 L209.23 724.57 L209.5 725.8 L210 726.79 L210.5 728.02 L211 729.27 L211.5 730.8 L212.23 731.97 L212.97 733.39 L213.7 734.1 L214.5 735.14 L215.3 736.87 L216.1 737.4 L216.93 737.85 L217.77 739.13 L218.6 739.9 L219.43 740.49 L220.27 741.54 L221.1 742.4 L222.35 743.07 L223.6 743.7 L224.7 743.86 L225.8 743.9 L226.9 743.85 L228 744" fill="none" stroke="#c8202e" stroke-width="1.15" stroke-linejoin="round"/>
<rect x="59.3" y="612" width="176.7" height="132.2" fill="none" stroke="#000" stroke-width="1.5"/>
<line x1="54.8" y1="744.2" x2="59.3" y2="744.2" stroke="#000" stroke-width="1.3"/>
<text x="50.4" y="748.2" text-anchor="end" class="n" textLength="6.75" lengthAdjust="spacingAndGlyphs">0</text>
<line x1="54.8" y1="691.32" x2="59.3" y2="691.32" stroke="#000" stroke-width="1.3"/>
<text x="50.4" y="695.32" text-anchor="end" class="n" textLength="20.25" lengthAdjust="spacingAndGlyphs">200</text>
<line x1="54.8" y1="638.44" x2="59.3" y2="638.44" stroke="#000" stroke-width="1.3"/>
<text x="50.4" y="642.44" text-anchor="end" class="n" textLength="20.25" lengthAdjust="spacingAndGlyphs">400</text>
<line x1="54.8" y1="612" x2="59.3" y2="612" stroke="#000" stroke-width="1.3"/>
<text x="50.4" y="616" text-anchor="end" class="n" textLength="20.25" lengthAdjust="spacingAndGlyphs">500</text>
<line x1="59.3" y1="744.2" x2="59.3" y2="748.4" stroke="#000" stroke-width="1.2"/>
<line x1="75.42" y1="744.2" x2="75.42" y2="747.8" stroke="#000" stroke-width="1.2"/>
<line x1="84.85" y1="744.2" x2="84.85" y2="747.8" stroke="#000" stroke-width="1.2"/>
<line x1="91.54" y1="744.2" x2="91.54" y2="747.8" stroke="#000" stroke-width="1.2"/>
<line x1="96.73" y1="744.2" x2="96.73" y2="747.8" stroke="#000" stroke-width="1.2"/>
<line x1="100.97" y1="744.2" x2="100.97" y2="747.8" stroke="#000" stroke-width="1.2"/>
<line x1="104.55" y1="744.2" x2="104.55" y2="747.8" stroke="#000" stroke-width="1.2"/>
<line x1="107.66" y1="744.2" x2="107.66" y2="747.8" stroke="#000" stroke-width="1.2"/>
<line x1="110.4" y1="744.2" x2="110.4" y2="747.8" stroke="#000" stroke-width="1.2"/>
<line x1="112.85" y1="744.2" x2="112.85" y2="748.4" stroke="#000" stroke-width="1.2"/>
<line x1="128.96" y1="744.2" x2="128.96" y2="747.8" stroke="#000" stroke-width="1.2"/>
<line x1="138.39" y1="744.2" x2="138.39" y2="747.8" stroke="#000" stroke-width="1.2"/>
<line x1="145.08" y1="744.2" x2="145.08" y2="747.8" stroke="#000" stroke-width="1.2"/>
<line x1="150.27" y1="744.2" x2="150.27" y2="747.8" stroke="#000" stroke-width="1.2"/>
<line x1="154.51" y1="744.2" x2="154.51" y2="747.8" stroke="#000" stroke-width="1.2"/>
<line x1="158.1" y1="744.2" x2="158.1" y2="747.8" stroke="#000" stroke-width="1.2"/>
<line x1="161.2" y1="744.2" x2="161.2" y2="747.8" stroke="#000" stroke-width="1.2"/>
<line x1="163.94" y1="744.2" x2="163.94" y2="747.8" stroke="#000" stroke-width="1.2"/>
<line x1="166.39" y1="744.2" x2="166.39" y2="748.4" stroke="#000" stroke-width="1.2"/>
<line x1="182.51" y1="744.2" x2="182.51" y2="747.8" stroke="#000" stroke-width="1.2"/>
<line x1="191.94" y1="744.2" x2="191.94" y2="747.8" stroke="#000" stroke-width="1.2"/>
<line x1="198.63" y1="744.2" x2="198.63" y2="747.8" stroke="#000" stroke-width="1.2"/>
<line x1="203.82" y1="744.2" x2="203.82" y2="747.8" stroke="#000" stroke-width="1.2"/>
<line x1="208.06" y1="744.2" x2="208.06" y2="747.8" stroke="#000" stroke-width="1.2"/>
<line x1="211.64" y1="744.2" x2="211.64" y2="747.8" stroke="#000" stroke-width="1.2"/>
<line x1="214.75" y1="744.2" x2="214.75" y2="747.8" stroke="#000" stroke-width="1.2"/>
<line x1="217.49" y1="744.2" x2="217.49" y2="747.8" stroke="#000" stroke-width="1.2"/>
<line x1="219.94" y1="744.2" x2="219.94" y2="748.4" stroke="#000" stroke-width="1.2"/>
<line x1="59.3" y1="744.2" x2="59.3" y2="748.7" stroke="#000" stroke-width="1.3"/>
<line x1="236" y1="744.2" x2="236" y2="748.7" stroke="#000" stroke-width="1.3"/>
<text x="51.05" y="763.1" class="n" textLength="12.6" lengthAdjust="spacingAndGlyphs">10</text><text x="64.05" y="758.2" class="s">2</text>
<text x="104.6" y="763.1" class="n" textLength="12.6" lengthAdjust="spacingAndGlyphs">10</text><text x="117.6" y="758.2" class="s">3</text>
<text x="158.14" y="763.1" class="n" textLength="12.6" lengthAdjust="spacingAndGlyphs">10</text><text x="171.14" y="758.2" class="s">4</text>
<text x="223.7" y="763.1" class="n" textLength="12.6" lengthAdjust="spacingAndGlyphs">10</text><text x="237.1" y="757.9" class="s" textLength="11.6" lengthAdjust="spacingAndGlyphs">5.3</text>
<text transform="translate(147.65 782.3) scale(0.58 1)" x="0" y="0" text-anchor="middle" class="ax" textLength="94.83" lengthAdjust="spacing">Fluorescence</text>
<text transform="translate(22.9 678.1) rotate(-90) scale(0.58 1)" x="0" y="0" text-anchor="middle" class="ax" textLength="73.1" lengthAdjust="spacing">Cell count</text>
<text x="67.6" y="628.8" class="t" textLength="73.2" lengthAdjust="spacingAndGlyphs">Alexa-R21D10</text>
<path d="M321.7 739 L323 738.26 L324.3 738.1 L325.2 738.96 L326.1 739.9 L326.67 738.8 L327.23 737.4 L327.8 736.4 L328.65 737.91 L329.5 739 L330.35 738.55 L331.2 737.3 L332.1 737.81 L333 739 L333.57 737.92 L334.13 736.92 L334.7 735.5 L335.57 733.85 L336.43 733.29 L337.3 732.1 L338.6 731.18 L339.9 730.4 L340.47 728.8 L341.03 728.48 L341.6 726.9 L342.2 725.8 L342.8 724.41 L343.4 723.4 L343.82 722.48 L344.25 721.47 L344.68 720.45 L345.1 719.1 L345.95 718.01 L346.8 716.5 L347.65 715.8 L348.5 714.8 L349.1 713.18 L349.7 712.3 L350.3 711.3 L350.35 710.25 L350.39 707.98 L350.44 708.87 L350.48 706.74 L350.53 705.36 L350.57 703.93 L350.62 703.71 L350.66 702.51 L350.71 701.15 L350.75 700.12 L350.8 699.2 L350.97 700.05 L351.14 701.36 L351.31 702.89 L351.49 703.9 L351.66 705.7 L351.83 706.6 L352 707.9 L352.17 706.71 L352.34 705.58 L352.51 704.71 L352.69 703.19 L352.86 701.78 L353.03 700.37 L353.2 699.2 L353.43 697.69 L353.67 696.75 L353.9 696.06 L354.13 694.7 L354.37 693.27 L354.6 692.3 L354.7 690.52 L354.8 689.26 L354.9 688.99 L355 688.17 L355.1 686.7 L355.2 684.69 L355.3 684.11 L355.4 683.17 L355.5 681.9 L355.7 680.14 L355.9 679.48 L356.1 677.9 L356.3 676.7 L356.4 677.43 L356.5 678.38 L356.6 680.58 L356.7 681.5 L356.8 682.03 L356.9 683.13 L357 685.23 L357.1 686.24 L357.2 687.1 L357.33 688.18 L357.46 690.32 L357.59 690.65 L357.71 691.52 L357.84 693.75 L357.97 694.38 L358.1 695.7 L358.14 694.73 L358.18 693.47 L358.22 691.85 L358.26 690.64 L358.3 689.98 L358.33 689.62 L358.37 687.33 L358.41 687.35 L358.45 685.67 L358.49 683.89 L358.53 683.45 L358.57 682.47 L358.61 680.61 L358.65 678.86 L358.69 678.99 L358.73 677.11 L358.77 676.78 L358.8 674.44 L358.84 674.23 L358.88 672.75 L358.92 671.27 L358.96 670.8 L359 669.8 L359.07 670.99 L359.15 671.7 L359.22 672.48 L359.29 674.31 L359.36 674.39 L359.44 676.68 L359.51 677.75 L359.58 679.46 L359.65 680.15 L359.73 680.98 L359.8 681.9 L360.2 680.87 L360.6 679.58 L361 678.4 L361.12 676.57 L361.23 676.86 L361.35 675.22 L361.47 673.65 L361.58 672.05 L361.7 672.29 L361.82 670.63 L361.93 668.56 L362.05 668.41 L362.17 667.93 L362.28 665.74 L362.4 664.6 L362.7 663.52 L363 661.77 L363.3 660.35 L363.6 659.4 L363.69 658.91 L363.78 658.95 L363.87 656.17 L363.96 654.93 L364.05 654.36 L364.15 652.62 L364.24 652.13 L364.33 651.09 L364.42 648.9 L364.51 647.77 L364.6 647.3 L364.77 646.03 L364.94 645.34 L365.11 643.78 L365.29 643.14 L365.46 640.32 L365.63 640.23 L365.8 638.7 L365.86 639.47 L365.92 641.07 L365.98 642.36 L366.04 642.73 L366.1 644.33 L366.16 644.92 L366.22 646.93 L366.28 647.42 L366.34 648.79 L366.4 650.36 L366.46 651.01 L366.52 653.21 L366.58 653.33 L366.64 655.33 L366.7 656 L366.93 654.86 L367.15 652.8 L367.38 651.97 L367.6 650.8 L368 649.14 L368.4 648.25 L368.8 647.3 L368.94 648.38 L369.09 650.85 L369.23 650.78 L369.37 653.18 L369.51 653.77 L369.66 654.01 L369.8 656 L370 655.84 L370.2 658.68 L370.4 658.33 L370.6 661 L370.8 662.32 L371 662.9 L371.9 661.1 L372 662.47 L372.1 663.3 L372.2 664.43 L372.3 665.86 L372.4 666.71 L372.5 667.75 L372.6 668.99 L372.7 670.97 L372.8 671.5 L373.37 670.04 L373.93 669.44 L374.5 668.1 L374.74 668.71 L374.99 670.18 L375.23 671.06 L375.47 672.91 L375.71 674.6 L375.96 675.63 L376.2 676.7 L376.35 677.61 L376.5 679.33 L376.65 680 L376.8 681.52 L376.95 682.63 L377.1 683.92 L377.25 683.6 L377.4 685.33 L377.55 687.5 L377.7 688.23 L377.85 690.5 L378 690.6 L378.15 691.59 L378.31 692.54 L378.46 694.59 L378.62 695.25 L378.77 696.96 L378.93 697.43 L379.08 698.21 L379.24 699.72 L379.39 700.16 L379.55 701.41 L379.7 702.7 L379.89 703.61 L380.08 704.9 L380.27 706.46 L380.46 707.08 L380.64 708.55 L380.83 709.37 L381.02 711.06 L381.21 710.78 L381.4 713 L381.62 714.01 L381.85 715.24 L382.07 715.86 L382.3 717.72 L382.52 718.52 L382.75 719.98 L382.97 720.95 L383.2 721.7 L383.56 723.03 L383.91 723.88 L384.27 724.69 L384.63 726.09 L384.99 727.13 L385.34 728.46 L385.7 729.5 L386.57 730.23 L387.43 732.12 L388.3 732.1 L389.6 732.1 L390.9 733 L391.77 734.15 L392.63 734.54 L393.5 735.5 L394.8 735.89 L396.1 736.4 L397.4 735.79 L398.7 734.7 L399.57 735.57 L400.43 736.13 L401.3 737.3 L402.4 738.45 L403.5 739.4 L404.63 738.76 L405.77 737.72 L406.9 737.6 L408.07 737.08 L409.23 736.2 L410.4 735.9 L411.53 736.01 L412.67 736.62 L413.8 736.8 L414.97 736.31 L416.13 735.59 L417.3 735.1 L418.47 735.83 L419.63 735.54 L420.8 735.6 L421.93 734.97 L423.07 734.73 L424.2 734.2 L425.37 734.73 L426.53 734.76 L427.7 735.9 L428.83 734.93 L429.97 734.4 L431.1 734.2 L432.27 735.44 L433.43 735.55 L434.6 736.3 L435.77 735.53 L436.93 734.75 L438.1 734.2 L439.23 734.76 L440.37 734.81 L441.5 735.1 L442.15 734.46 L442.8 733.12 L443.45 732.27 L444.1 730.7 L445.25 729.82 L446.4 729 L447.4 730.41 L448.4 731.6 L448.92 730.4 L449.45 729.4 L449.98 727.84 L450.5 727.3 L451.27 727.99 L452.03 728.75 L452.8 729.9 L453.9 728.8 L455 728.1 L455.7 729.34 L456.4 729.91 L457.1 730.7 L458.4 731.95 L459.7 732.5 L460.57 733.6 L461.43 734.48 L462.3 735.1 L463.17 734.5 L464.03 733.2 L464.9 732.5 L465.32 733.99 L465.75 734.97 L466.18 736.19 L466.6 737.6 L467.9 738.77 L469.2 739.4 L470.37 740.43 L471.53 740.33 L472.7 741.1 L473.83 741.74 L474.97 741.86 L476.1 742 L477.27 742.25 L478.43 742.85 L479.6 743.2 L480.95 743.41 L482.3 743.56 L483.65 743.6 L485 743.8" fill="none" stroke="#111" stroke-width="1.15" stroke-linejoin="round"/>
<path d="M383 743.8 L384.24 743.34 L385.48 743.28 L386.72 743.16 L387.96 742.89 L389.2 742.5 L390.07 741.89 L390.93 741.25 L391.8 740.09 L392.67 739.56 L393.53 738.91 L394.4 738.1 L395.26 737.48 L396.12 736.42 L396.98 735.65 L397.84 734.7 L398.7 733.8 L400 734.2 L400.88 733.9 L401.75 731.84 L402.62 731.57 L403.5 730.7 L404.35 730.36 L405.2 728.62 L406.05 726.9 L406.9 726.4 L408.07 725.58 L409.23 724.2 L410.4 723.8 L411.53 723.27 L412.67 723.28 L413.8 722.9 L415.1 722.64 L416.4 721.2 L417.3 720.51 L418.2 719.5 L418.77 720.87 L419.33 722.12 L419.9 722.9 L420.77 723.83 L421.63 724.35 L422.5 725.5 L423.8 726.37 L425.1 727.3 L426.4 727.8 L427.7 728.1 L429 727.16 L430.3 726.4 L431.6 725.74 L432.9 725.5 L433.77 724.52 L434.63 723.27 L435.5 722.9 L436.15 721.47 L436.8 720.72 L437.45 719.55 L438.1 718.6 L439.1 717.31 L440.1 716 L440.45 715.45 L440.8 713.96 L441.15 712.76 L441.5 711.7 L441.73 710.09 L441.97 708.97 L442.2 708.4 L442.43 706.74 L442.67 706.13 L442.9 704.8 L443.07 703.1 L443.24 702.37 L443.41 701.04 L443.59 700.26 L443.76 698.41 L443.93 697.18 L444.1 696.1 L444.27 694.98 L444.44 693.67 L444.61 693.19 L444.79 691.07 L444.96 689.71 L445.13 688.58 L445.3 687.5 L445.43 686.63 L445.55 685.41 L445.68 684.54 L445.81 682.42 L445.94 683.23 L446.06 681.82 L446.19 679.78 L446.32 678.09 L446.45 677.68 L446.57 676.71 L446.7 675.4 L446.86 673.09 L447.01 673.1 L447.17 671.16 L447.32 671.02 L447.48 670.36 L447.63 669.02 L447.79 666.5 L447.94 666.9 L448.1 665 L448.23 664.34 L448.37 662.49 L448.5 661.81 L448.63 661.22 L448.77 659.04 L448.9 658.06 L449.03 656.6 L449.17 656.41 L449.3 654.6 L449.43 652.21 L449.57 653.11 L449.7 650.57 L449.83 650.52 L449.97 647.87 L450.1 647.12 L450.23 646.16 L450.37 645.85 L450.5 644.2 L450.7 644.4 L450.9 646.89 L451.1 647.7 L451.35 645.97 L451.6 645.74 L451.85 643.46 L452.1 642.3 L452.33 641.48 L452.57 639.96 L452.8 640.04 L453.03 637.61 L453.27 636.7 L453.5 635.6 L454.15 635.83 L454.8 633.6 L455.27 632.52 L455.73 631.76 L456.2 630.2 L456.53 628.6 L456.87 628.06 L457.2 626.8 L457.5 626.71 L457.8 629.5 L458.3 630.57 L458.8 631.5 L459.17 632.46 L459.53 633.3 L459.9 635.6 L460.4 636.08 L460.9 638.3 L461.05 640.32 L461.2 641.21 L461.35 641.36 L461.5 643.6 L461.77 646.05 L462.03 645.92 L462.3 647.7 L462.45 648.58 L462.61 650.04 L462.76 650.34 L462.92 651.17 L463.07 652.77 L463.23 654.98 L463.38 655.94 L463.54 655.61 L463.69 658.28 L463.85 658.72 L464 659.8 L464.24 661.31 L464.49 662.29 L464.73 663.71 L464.97 664.17 L465.21 665.45 L465.46 666.79 L465.7 668.4 L465.93 669.29 L466.15 670.9 L466.38 671.02 L466.6 673.58 L466.82 673.51 L467.05 674.62 L467.27 676.37 L467.5 677.1 L467.74 678.55 L467.99 679.39 L468.23 680.25 L468.47 681.52 L468.71 682.46 L468.96 685.03 L469.2 685.7 L469.39 687.38 L469.58 688.9 L469.77 689.4 L469.96 690.48 L470.14 691.83 L470.33 693.07 L470.52 693.67 L470.71 695.1 L470.9 696.1 L471.1 698.21 L471.3 697.66 L471.5 698.95 L471.7 700.31 L471.9 702.2 L472.1 703.54 L472.3 704.05 L472.5 705.62 L472.7 706.5 L472.91 707.57 L473.12 708.8 L473.34 709.55 L473.55 710.84 L473.76 711.94 L473.97 713.46 L474.19 714.96 L474.4 715.2 L474.68 715.68 L474.97 717.69 L475.25 718.65 L475.53 720.14 L475.82 721.32 L476.1 722.1 L476.4 723.51 L476.7 724.67 L477 725.24 L477.3 726.16 L477.6 728.37 L477.9 729 L478.32 730.66 L478.75 731.33 L479.18 733.26 L479.6 734.2 L480.12 735.41 L480.64 735.67 L481.16 737.54 L481.68 738.13 L482.2 739.4 L483.07 740.51 L483.93 741 L484.8 742 L485.93 742.27 L487.07 742.54 L488.2 743.2 L489.47 743.4 L490.73 743.8 L492 743.9" fill="none" stroke="#2c2c88" stroke-width="1.15" stroke-linejoin="round"/>
<path d="M340 743.3 L341.25 743.02 L342.5 742.64 L343.75 743.14 L345 742.6 L346.25 743.07 L347.5 743.02 L348.75 742.96 L350 743.2 L351.25 742.8 L352.5 742.52 L353.75 742.7 L355 742.4 L356.25 742.78 L357.5 742.52 L358.75 742.85 L360 743 L361.2 742.87 L362.4 742.8 L363.6 742.85 L364.8 743.04 L366 742.6 L367.2 742.61 L368.4 742.98 L369.6 743.14 L370.8 743.03 L372 743.2 L373.2 743.1 L374.4 742.82 L375.6 743.14 L376.8 742.79 L378 742.8 L379.17 742.81 L380.33 743.04 L381.5 743.01 L382.67 743.1 L383.83 743.34 L385 743.5 L386.17 743.62 L387.33 743.23 L388.5 743.24 L389.67 742.79 L390.83 742.59 L392 742.8 L393.25 742.97 L394.5 742.43 L395.75 742.07 L397 742.2 L398.5 741.63 L400 741.1 L401.17 740.36 L402.33 738.99 L403.5 738.5 L404.63 737.89 L405.77 737.76 L406.9 737.3 L408.07 736.61 L409.23 736.57 L410.4 735.9 L411.53 735.88 L412.67 735.48 L413.8 735.1 L414.97 734.12 L416.13 733.35 L417.3 732.5 L417.87 731.15 L418.43 730.13 L419 729 L420.3 729.94 L421.6 730.7 L422.9 729.76 L424.2 729 L425.37 729 L426.53 729.2 L427.7 728.1 L428.83 727.66 L429.97 727.67 L431.1 727.3 L431.98 726.69 L432.85 725.76 L433.73 724.6 L434.6 723.8 L435.47 722.47 L436.33 721.81 L437.2 720.3 L438.07 719.39 L438.93 718.22 L439.8 716.9 L440.08 715.45 L440.37 714.84 L440.65 713.75 L440.93 712.23 L441.22 711.4 L441.5 710 L441.7 709.72 L441.9 706.92 L442.1 706.78 L442.3 704.89 L442.5 703.65 L442.7 702.97 L442.9 702.15 L443.1 700.78 L443.3 699.6 L443.44 697.93 L443.59 696.65 L443.73 695.88 L443.88 694.98 L444.02 693.44 L444.17 691.97 L444.31 692.33 L444.46 689.96 L444.6 689.2 L444.72 688.03 L444.84 686.74 L444.95 685.62 L445.07 684.82 L445.19 683.55 L445.31 682.91 L445.43 680.91 L445.55 679.65 L445.66 680.29 L445.78 678.16 L445.9 677.1 L446.03 676.34 L446.17 675.4 L446.3 673.92 L446.43 672.5 L446.57 670.5 L446.7 669.31 L446.83 669.53 L446.97 668.22 L447.1 666.7 L447.22 665.91 L447.34 663.59 L447.45 662.23 L447.57 661.71 L447.69 660.54 L447.81 660.19 L447.93 658.42 L448.05 658.8 L448.16 656.45 L448.28 655.38 L448.4 654.6 L448.52 653.95 L448.63 652.49 L448.75 650.63 L448.87 650.48 L448.98 649.98 L449.1 646.97 L449.22 646.4 L449.33 644.76 L449.45 643.08 L449.57 643.48 L449.68 642.37 L449.8 640.8 L450.1 640.3 L450.24 639.78 L450.39 638.32 L450.53 635.69 L450.68 635.79 L450.82 634.27 L450.97 632.83 L451.11 631.75 L451.26 631.81 L451.4 630.2 L451.52 628.78 L451.63 628.99 L451.75 626.8 L451.87 624.03 L451.98 624.61 L452.1 622.8 L452.77 622.72 L453.43 621.02 L454.1 620.1 L454.95 617.95 L455.8 617.4 L457.2 618.7 L457.85 621.21 L458.5 621.4 L459.35 619.54 L460.2 619.4 L460.53 620.71 L460.87 620.89 L461.2 623.5 L461.53 624.02 L461.87 625.07 L462.2 627.5 L462.29 629.37 L462.38 630.6 L462.46 630.77 L462.55 631.34 L462.64 633.34 L462.72 634.79 L462.81 634.77 L462.9 636.9 L463.15 637.53 L463.4 639.54 L463.65 641.38 L463.9 642.3 L463.97 643.47 L464.04 644.83 L464.11 644.94 L464.19 645.33 L464.26 648.13 L464.33 648.53 L464.4 650.13 L464.47 651.11 L464.54 652.74 L464.61 653.14 L464.69 655.55 L464.76 655.86 L464.83 657.27 L464.9 658.1 L465.09 659.6 L465.28 660.97 L465.47 661.76 L465.66 661.7 L465.84 663.47 L466.03 665.99 L466.22 666.37 L466.41 667.56 L466.6 668.4 L466.79 669.81 L466.98 670.37 L467.17 671.51 L467.36 672.68 L467.54 674.79 L467.73 675.52 L467.92 677.41 L468.11 677.9 L468.3 678.8 L468.5 680.92 L468.7 681.34 L468.9 681.67 L469.1 684.29 L469.3 684.74 L469.5 686.32 L469.7 686.99 L469.9 687.89 L470.1 689.2 L470.29 690.44 L470.48 690.98 L470.67 692.11 L470.86 693.41 L471.04 694.74 L471.23 695.51 L471.42 697.24 L471.61 698.58 L471.8 699.6 L471.99 701.65 L472.18 702.71 L472.37 703.05 L472.56 704.6 L472.74 705.29 L472.93 706.7 L473.12 707.67 L473.31 708.62 L473.5 710 L473.76 711.26 L474.01 711.87 L474.27 713.86 L474.53 714.8 L474.79 715.73 L475.04 717.24 L475.3 718.6 L475.58 719.95 L475.87 720.66 L476.15 722.22 L476.43 723.4 L476.72 724.87 L477 725.5 L477.43 726.45 L477.85 728.07 L478.27 729.56 L478.7 730.7 L479.12 732.43 L479.55 733.37 L479.97 734.8 L480.4 735.9 L481.05 736.61 L481.7 737.91 L482.35 739.5 L483 740.2 L483.87 741.01 L484.73 742.35 L485.6 742.8 L486.9 743.13 L488.2 743.7 L489.4 743.73 L490.6 743.62 L491.8 743.8 L493 744" fill="none" stroke="#c8202e" stroke-width="1.15" stroke-linejoin="round"/>
<rect x="320.7" y="612" width="176.4" height="132.1" fill="none" stroke="#000" stroke-width="1.5"/>
<line x1="316.2" y1="744.1" x2="320.7" y2="744.1" stroke="#000" stroke-width="1.3"/>
<text x="311.8" y="748.1" text-anchor="end" class="n" textLength="6.75" lengthAdjust="spacingAndGlyphs">0</text>
<line x1="316.2" y1="711.08" x2="320.7" y2="711.08" stroke="#000" stroke-width="1.3"/>
<text x="311.8" y="715.08" text-anchor="end" class="n" textLength="20.25" lengthAdjust="spacingAndGlyphs">100</text>
<line x1="316.2" y1="678.05" x2="320.7" y2="678.05" stroke="#000" stroke-width="1.3"/>
<text x="311.8" y="682.05" text-anchor="end" class="n" textLength="20.25" lengthAdjust="spacingAndGlyphs">200</text>
<line x1="316.2" y1="645.02" x2="320.7" y2="645.02" stroke="#000" stroke-width="1.3"/>
<text x="311.8" y="649.02" text-anchor="end" class="n" textLength="20.25" lengthAdjust="spacingAndGlyphs">300</text>
<line x1="316.2" y1="612" x2="320.7" y2="612" stroke="#000" stroke-width="1.3"/>
<text x="311.8" y="616" text-anchor="end" class="n" textLength="20.25" lengthAdjust="spacingAndGlyphs">400</text>
<line x1="320.75" y1="744.1" x2="320.75" y2="747.7" stroke="#000" stroke-width="1.2"/>
<line x1="329.89" y1="744.1" x2="329.89" y2="747.7" stroke="#000" stroke-width="1.2"/>
<line x1="336.37" y1="744.1" x2="336.37" y2="747.7" stroke="#000" stroke-width="1.2"/>
<line x1="341.4" y1="744.1" x2="341.4" y2="747.7" stroke="#000" stroke-width="1.2"/>
<line x1="345.51" y1="744.1" x2="345.51" y2="747.7" stroke="#000" stroke-width="1.2"/>
<line x1="348.98" y1="744.1" x2="348.98" y2="747.7" stroke="#000" stroke-width="1.2"/>
<line x1="351.99" y1="744.1" x2="351.99" y2="747.7" stroke="#000" stroke-width="1.2"/>
<line x1="354.64" y1="744.1" x2="354.64" y2="747.7" stroke="#000" stroke-width="1.2"/>
<line x1="357.02" y1="744.1" x2="357.02" y2="748.3" stroke="#000" stroke-width="1.2"/>
<line x1="372.64" y1="744.1" x2="372.64" y2="747.7" stroke="#000" stroke-width="1.2"/>
<line x1="381.77" y1="744.1" x2="381.77" y2="747.7" stroke="#000" stroke-width="1.2"/>
<line x1="388.25" y1="744.1" x2="388.25" y2="747.7" stroke="#000" stroke-width="1.2"/>
<line x1="393.28" y1="744.1" x2="393.28" y2="747.7" stroke="#000" stroke-width="1.2"/>
<line x1="397.39" y1="744.1" x2="397.39" y2="747.7" stroke="#000" stroke-width="1.2"/>
<line x1="400.86" y1="744.1" x2="400.86" y2="747.7" stroke="#000" stroke-width="1.2"/>
<line x1="403.87" y1="744.1" x2="403.87" y2="747.7" stroke="#000" stroke-width="1.2"/>
<line x1="406.53" y1="744.1" x2="406.53" y2="747.7" stroke="#000" stroke-width="1.2"/>
<line x1="408.9" y1="744.1" x2="408.9" y2="748.3" stroke="#000" stroke-width="1.2"/>
<line x1="424.52" y1="744.1" x2="424.52" y2="747.7" stroke="#000" stroke-width="1.2"/>
<line x1="433.65" y1="744.1" x2="433.65" y2="747.7" stroke="#000" stroke-width="1.2"/>
<line x1="440.14" y1="744.1" x2="440.14" y2="747.7" stroke="#000" stroke-width="1.2"/>
<line x1="445.16" y1="744.1" x2="445.16" y2="747.7" stroke="#000" stroke-width="1.2"/>
<line x1="449.27" y1="744.1" x2="449.27" y2="747.7" stroke="#000" stroke-width="1.2"/>
<line x1="452.75" y1="744.1" x2="452.75" y2="747.7" stroke="#000" stroke-width="1.2"/>
<line x1="455.75" y1="744.1" x2="455.75" y2="747.7" stroke="#000" stroke-width="1.2"/>
<line x1="458.41" y1="744.1" x2="458.41" y2="747.7" stroke="#000" stroke-width="1.2"/>
<line x1="460.78" y1="744.1" x2="460.78" y2="748.3" stroke="#000" stroke-width="1.2"/>
<line x1="476.4" y1="744.1" x2="476.4" y2="747.7" stroke="#000" stroke-width="1.2"/>
<line x1="485.54" y1="744.1" x2="485.54" y2="747.7" stroke="#000" stroke-width="1.2"/>
<line x1="492.02" y1="744.1" x2="492.02" y2="747.7" stroke="#000" stroke-width="1.2"/>
<line x1="497.05" y1="744.1" x2="497.05" y2="747.7" stroke="#000" stroke-width="1.2"/>
<line x1="320.7" y1="744.1" x2="320.7" y2="748.6" stroke="#000" stroke-width="1.3"/>
<line x1="497.1" y1="744.1" x2="497.1" y2="748.6" stroke="#000" stroke-width="1.3"/>
<text x="308.4" y="763" class="n" textLength="12.6" lengthAdjust="spacingAndGlyphs">10</text><text x="321.8" y="757.8" class="s" textLength="11.6" lengthAdjust="spacingAndGlyphs">1.3</text>
<text x="348.77" y="763" class="n" textLength="12.6" lengthAdjust="spacingAndGlyphs">10</text><text x="361.77" y="758.1" class="s">2</text>
<text x="400.65" y="763" class="n" textLength="12.6" lengthAdjust="spacingAndGlyphs">10</text><text x="413.65" y="758.1" class="s">3</text>
<text x="452.53" y="763" class="n" textLength="12.6" lengthAdjust="spacingAndGlyphs">10</text><text x="465.53" y="758.1" class="s">4</text>
<text x="484.8" y="763" class="n" textLength="12.6" lengthAdjust="spacingAndGlyphs">10</text><text x="498.2" y="757.8" class="s" textLength="11.6" lengthAdjust="spacingAndGlyphs">4.7</text>
<text transform="translate(408.9 782.2) scale(0.58 1)" x="0" y="0" text-anchor="middle" class="ax" textLength="94.83" lengthAdjust="spacing">Fluorescence</text>
<text transform="translate(284.3 678.05) rotate(-90) scale(0.58 1)" x="0" y="0" text-anchor="middle" class="ax" textLength="73.1" lengthAdjust="spacing">Cell count</text>
<text x="329.1" y="628.1" class="t" textLength="50.8" lengthAdjust="spacingAndGlyphs">Alexa-7H2</text>
<text x="9.8" y="24.5" class="L">A</text>
<text x="271.6" y="24.5" class="L">B</text>
<text x="10.2" y="296.2" class="L">C</text>
<text x="271.6" y="296.2" class="L">D</text>
<text x="10.0" y="568.5" class="L">E</text>
<text x="272.7" y="568.5" class="L">F</text>
<line x1="59.3" y1="15.95" x2="72.5" y2="15.95" stroke="#111" stroke-width="1.6"/>
<text x="77.9" y="19.1" class="g" fill="#111" textLength="90.9" lengthAdjust="spacingAndGlyphs">Alexa 488-R21D10</text>
<line x1="59.3" y1="32.6" x2="72.5" y2="32.6" stroke="#2c2c88" stroke-width="1.6"/>
<text x="77.9" y="35.75" class="g" fill="#3a3a8e" textLength="97.3" lengthAdjust="spacingAndGlyphs">+ unlabeled R21D10</text>
<line x1="59.3" y1="49.25" x2="72.5" y2="49.25" stroke="#5fae4a" stroke-width="1.6"/>
<text x="77.9" y="52.4" class="g" fill="#4e9440" textLength="29.5" lengthAdjust="spacingAndGlyphs">+ 7E3</text>
<line x1="59.3" y1="65.9" x2="72.5" y2="65.9" stroke="#c8202e" stroke-width="1.6"/>
<text x="77.9" y="69.05" class="g" fill="#cc2228" textLength="35.7" lengthAdjust="spacingAndGlyphs">+ 10E5</text>
<line x1="320.7" y1="32.55" x2="333.9" y2="32.55" stroke="#c8202e" stroke-width="1.6"/>
<text x="339.3" y="35.7" class="g" fill="#cc2228" textLength="77.1" lengthAdjust="spacingAndGlyphs">Alexa 488-10E5</text>
<line x1="320.7" y1="49.2" x2="333.9" y2="49.2" stroke="#111" stroke-width="1.6"/>
<text x="339.3" y="52.35" class="g" fill="#111" textLength="82.1" lengthAdjust="spacingAndGlyphs">+ unlabeled 10E5</text>
<line x1="320.7" y1="65.85" x2="333.9" y2="65.85" stroke="#5fae4a" stroke-width="1.6"/>
<text x="339.3" y="69" class="g" fill="#4e9440" textLength="51.3" lengthAdjust="spacingAndGlyphs">+ R21D10</text>
<line x1="59.3" y1="304.25" x2="72.5" y2="304.25" stroke="#c8202e" stroke-width="1.6"/>
<text x="77.9" y="307.4" class="g" fill="#cc2228" textLength="69" lengthAdjust="spacingAndGlyphs">Alexa 488-7E3</text>
<line x1="59.3" y1="320.9" x2="72.5" y2="320.9" stroke="#111" stroke-width="1.6"/>
<text x="77.9" y="324.05" class="g" fill="#111" textLength="76" lengthAdjust="spacingAndGlyphs">+ unlabeled 7E3</text>
<line x1="59.3" y1="337.55" x2="72.5" y2="337.55" stroke="#5fae4a" stroke-width="1.6"/>
<text x="77.9" y="340.7" class="g" fill="#4e9440" textLength="49.2" lengthAdjust="spacingAndGlyphs">+ R21D10</text>
<line x1="320.7" y1="287.55" x2="333.9" y2="287.55" stroke="#2c2c88" stroke-width="1.6"/>
<text x="339.3" y="290.7" class="g" fill="#3a3a8e" textLength="68.9" lengthAdjust="spacingAndGlyphs">Alexa 488-7E3</text>
<line x1="320.7" y1="304.2" x2="333.9" y2="304.2" stroke="#111" stroke-width="1.6"/>
<text x="339.3" y="307.35" class="g" fill="#111" textLength="76.5" lengthAdjust="spacingAndGlyphs">+ unlabeled 7E3</text>
<line x1="320.7" y1="320.85" x2="333.9" y2="320.85" stroke="#c8202e" stroke-width="1.6"/>
<text x="339.3" y="324" class="g" fill="#cc2228" textLength="70.2" lengthAdjust="spacingAndGlyphs">+ R21D10 IgG</text>
<line x1="320.7" y1="337.5" x2="333.9" y2="337.5" stroke="#5fae4a" stroke-width="1.6"/>
<text x="339.3" y="340.65" class="g" fill="#4e9440" textLength="70.2" lengthAdjust="spacingAndGlyphs">+ R21D10 Fab</text>
<line x1="59.3" y1="559.25" x2="72.5" y2="559.25" stroke="#2c2c88" stroke-width="1.6"/>
<text x="77.9" y="562.4" class="g" fill="#3a3a8e" textLength="90.4" lengthAdjust="spacingAndGlyphs">Alexa 488-R21D10</text>
<line x1="59.3" y1="575.9" x2="72.5" y2="575.9" stroke="#111" stroke-width="1.6"/>
<text x="77.9" y="579.05" class="g" fill="#111" textLength="96.6" lengthAdjust="spacingAndGlyphs">+ unlabeled R21D10</text>
<line x1="59.3" y1="592.55" x2="72.5" y2="592.55" stroke="#c8202e" stroke-width="1.6"/>
<text x="77.9" y="595.7" class="g" fill="#cc2228" textLength="30" lengthAdjust="spacingAndGlyphs">+ 7H2</text>
<line x1="320.7" y1="559.25" x2="333.9" y2="559.25" stroke="#2c2c88" stroke-width="1.6"/>
<text x="339.3" y="562.4" class="g" fill="#3a3a8e" textLength="70.3" lengthAdjust="spacingAndGlyphs">Alexa 488-7H2</text>
<line x1="320.7" y1="575.9" x2="333.9" y2="575.9" stroke="#111" stroke-width="1.6"/>
<text x="339.3" y="579.05" class="g" fill="#111" textLength="77.5" lengthAdjust="spacingAndGlyphs">+ unlabeled 7H2</text>
<line x1="320.7" y1="592.55" x2="333.9" y2="592.55" stroke="#c8202e" stroke-width="1.6"/>
<text x="339.3" y="595.7" class="g" fill="#cc2228" textLength="48.8" lengthAdjust="spacingAndGlyphs">+ R21D10</text>
<path d="M420.8 285.6 H426.8 V339.8 H420.8" fill="none" stroke="#222" stroke-width="1.3"/>
<text x="431.0" y="315.9" class="g" fill="#111" textLength="23.2" lengthAdjust="spacingAndGlyphs">+ T6</text>
<rect x="0" y="0" width="520" height="1.2" fill="#262626"/><rect x="0" y="0" width="1.3" height="796" fill="#262626"/><rect x="518.75" y="0" width="1.25" height="796" fill="#262626"/><rect x="0" y="794.6" width="520" height="1.4" fill="#262626"/>
</svg>
</body></html>
